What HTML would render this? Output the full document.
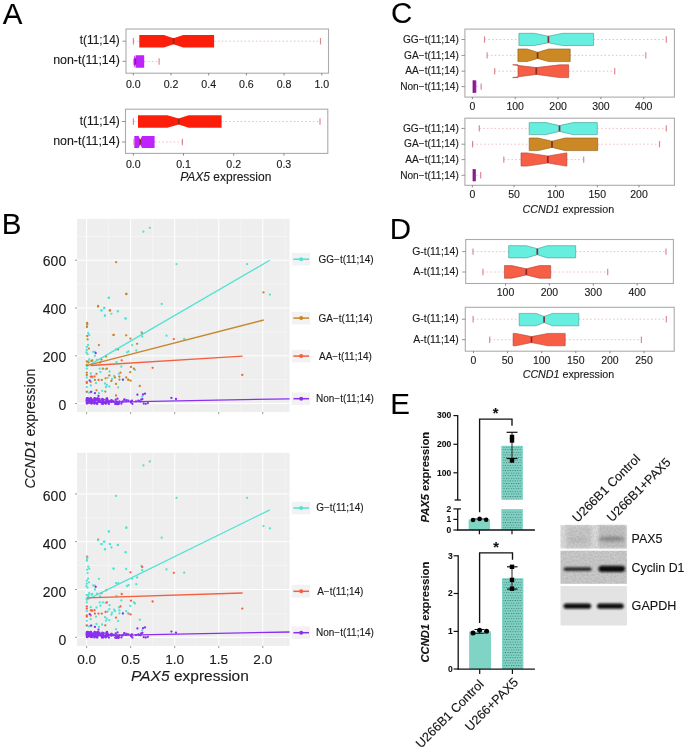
<!DOCTYPE html>
<html><head><meta charset="utf-8"><style>
html,body{margin:0;padding:0;background:#fff;}
svg{display:block;will-change:transform;}
text{font-family:"Liberation Sans", sans-serif;stroke:#1a1a1a;stroke-width:0.12px;}
</style></head><body>
<svg width="685" height="748" viewBox="0 0 685 748">
<rect x="0" y="0" width="685" height="748" fill="#ffffff"/>
<text x="2.8" y="23.8" font-size="29.5" text-anchor="start" font-weight="normal" font-style="normal" fill="#000" >A</text>
<text x="1.8" y="233.9" font-size="29.5" text-anchor="start" font-weight="normal" font-style="normal" fill="#000" >B</text>
<text x="390.9" y="23.4" font-size="29.5" text-anchor="start" font-weight="normal" font-style="normal" fill="#000" >C</text>
<text x="389.7" y="239.2" font-size="29.5" text-anchor="start" font-weight="normal" font-style="normal" fill="#000" >D</text>
<text x="390.3" y="414.1" font-size="29.5" text-anchor="start" font-weight="normal" font-style="normal" fill="#000" >E</text>
<rect x="126.00" y="29.00" width="202.50" height="44.20" fill="none" stroke="#ababab" stroke-width="1.1" />
<line x1="133.30" y1="73.20" x2="133.30" y2="75.40" stroke="#777" stroke-width="0.9" />
<text x="133.3" y="87.6" font-size="10.6" text-anchor="middle" font-weight="normal" font-style="normal" fill="#1a1a1a" >0.0</text>
<line x1="171.00" y1="73.20" x2="171.00" y2="75.40" stroke="#777" stroke-width="0.9" />
<text x="171.0" y="87.6" font-size="10.6" text-anchor="middle" font-weight="normal" font-style="normal" fill="#1a1a1a" >0.2</text>
<line x1="208.70" y1="73.20" x2="208.70" y2="75.40" stroke="#777" stroke-width="0.9" />
<text x="208.7" y="87.6" font-size="10.6" text-anchor="middle" font-weight="normal" font-style="normal" fill="#1a1a1a" >0.4</text>
<line x1="246.40" y1="73.20" x2="246.40" y2="75.40" stroke="#777" stroke-width="0.9" />
<text x="246.4" y="87.6" font-size="10.6" text-anchor="middle" font-weight="normal" font-style="normal" fill="#1a1a1a" >0.6</text>
<line x1="284.10" y1="73.20" x2="284.10" y2="75.40" stroke="#777" stroke-width="0.9" />
<text x="284.1" y="87.6" font-size="10.6" text-anchor="middle" font-weight="normal" font-style="normal" fill="#1a1a1a" >0.8</text>
<line x1="321.80" y1="73.20" x2="321.80" y2="75.40" stroke="#777" stroke-width="0.9" />
<text x="321.8" y="87.6" font-size="10.6" text-anchor="middle" font-weight="normal" font-style="normal" fill="#1a1a1a" >1.0</text>
<line x1="122.50" y1="41.20" x2="126.00" y2="41.20" stroke="#888" stroke-width="0.9" />
<line x1="122.50" y1="61.30" x2="126.00" y2="61.30" stroke="#888" stroke-width="0.9" />
<text x="119.8" y="44.1" font-size="11.9" text-anchor="end" font-weight="normal" font-style="normal" fill="#1a1a1a" >t(11;14)</text>
<text x="119.8" y="64.4" font-size="11.9" text-anchor="end" font-weight="normal" font-style="normal" fill="#1a1a1a"  textLength="66.60" lengthAdjust="spacingAndGlyphs">non-t(11;14)</text>
<line x1="133.40" y1="41.20" x2="139.30" y2="41.20" stroke="#ecb0b6" stroke-width="0.8" stroke-dasharray="1.6,2.2"/>
<line x1="133.40" y1="38.00" x2="133.40" y2="44.40" stroke="#dc8a92" stroke-width="1.2" />
<line x1="214.10" y1="41.20" x2="320.50" y2="41.20" stroke="#ecb0b6" stroke-width="0.8" stroke-dasharray="1.6,2.2"/>
<line x1="320.50" y1="38.00" x2="320.50" y2="44.40" stroke="#dc8a92" stroke-width="1.2" />
<polygon points="139.30,34.90 163.90,34.90 173.60,38.20 183.20,34.90 214.10,34.90 214.10,47.50 183.20,47.50 173.60,44.20 163.90,47.50 139.30,47.50" fill="#fb1f0b" stroke="none" stroke-width="0.6"/>
<line x1="173.60" y1="38.20" x2="173.60" y2="44.20" stroke="#8a2a2a" stroke-width="1.7" />
<line x1="144.20" y1="61.50" x2="159.10" y2="61.50" stroke="#ecb0b6" stroke-width="0.8" stroke-dasharray="1.6,2.2"/>
<line x1="159.10" y1="58.30" x2="159.10" y2="64.70" stroke="#dc8a92" stroke-width="1.2" />
<polygon points="134.00,55.30 134.00,55.30 135.50,58.60 135.50,55.30 144.20,55.30 144.20,67.80 135.50,67.80 135.50,64.60 134.00,67.80 134.00,67.80" fill="#bd22ff" stroke="none" stroke-width="0.6"/>
<line x1="135.50" y1="58.60" x2="135.50" y2="64.60" stroke="#8a2a2a" stroke-width="1.3" />
<line x1="133.40" y1="58.80" x2="133.40" y2="64.80" stroke="#dc8a92" stroke-width="1.0" />
<rect x="125.50" y="109.20" width="202.30" height="44.20" fill="none" stroke="#ababab" stroke-width="1.1" />
<line x1="133.30" y1="153.40" x2="133.30" y2="155.60" stroke="#777" stroke-width="0.9" />
<text x="133.3" y="167.8" font-size="10.6" text-anchor="middle" font-weight="normal" font-style="normal" fill="#1a1a1a" >0.0</text>
<line x1="183.50" y1="153.40" x2="183.50" y2="155.60" stroke="#777" stroke-width="0.9" />
<text x="183.5" y="167.8" font-size="10.6" text-anchor="middle" font-weight="normal" font-style="normal" fill="#1a1a1a" >0.1</text>
<line x1="233.70" y1="153.40" x2="233.70" y2="155.60" stroke="#777" stroke-width="0.9" />
<text x="233.7" y="167.8" font-size="10.6" text-anchor="middle" font-weight="normal" font-style="normal" fill="#1a1a1a" >0.2</text>
<line x1="283.90" y1="153.40" x2="283.90" y2="155.60" stroke="#777" stroke-width="0.9" />
<text x="283.9" y="167.8" font-size="10.6" text-anchor="middle" font-weight="normal" font-style="normal" fill="#1a1a1a" >0.3</text>
<line x1="122.00" y1="121.50" x2="125.50" y2="121.50" stroke="#888" stroke-width="0.9" />
<line x1="122.00" y1="142.00" x2="125.50" y2="142.00" stroke="#888" stroke-width="0.9" />
<text x="119.8" y="124.6" font-size="11.9" text-anchor="end" font-weight="normal" font-style="normal" fill="#1a1a1a" >t(11;14)</text>
<text x="119.8" y="145.1" font-size="11.9" text-anchor="end" font-weight="normal" font-style="normal" fill="#1a1a1a"  textLength="66.60" lengthAdjust="spacingAndGlyphs">non-t(11;14)</text>
<line x1="133.40" y1="121.50" x2="138.00" y2="121.50" stroke="#ecb0b6" stroke-width="0.8" stroke-dasharray="1.6,2.2"/>
<line x1="133.40" y1="118.30" x2="133.40" y2="124.70" stroke="#dc8a92" stroke-width="1.2" />
<line x1="221.60" y1="121.50" x2="320.00" y2="121.50" stroke="#ecb0b6" stroke-width="0.8" stroke-dasharray="1.6,2.2"/>
<line x1="320.00" y1="118.30" x2="320.00" y2="124.70" stroke="#dc8a92" stroke-width="1.2" />
<polygon points="138.00,115.30 167.30,115.30 178.70,118.60 188.60,115.30 221.60,115.30 221.60,127.70 188.60,127.70 178.70,124.40 167.30,127.70 138.00,127.70" fill="#fb1f0b" stroke="none" stroke-width="0.6"/>
<line x1="178.70" y1="118.60" x2="178.70" y2="124.40" stroke="#8a2a2a" stroke-width="1.7" />
<line x1="154.60" y1="142.00" x2="182.40" y2="142.00" stroke="#ecb0b6" stroke-width="0.8" stroke-dasharray="1.6,2.2"/>
<line x1="182.40" y1="138.80" x2="182.40" y2="145.20" stroke="#dc8a92" stroke-width="1.2" />
<polygon points="134.30,135.90 138.60,135.90 140.30,139.50 142.00,135.90 154.60,135.90 154.60,148.10 142.00,148.10 140.30,144.50 138.60,148.10 134.30,148.10" fill="#bd22ff" stroke="none" stroke-width="0.6"/>
<line x1="140.30" y1="139.50" x2="140.30" y2="144.50" stroke="#8a2a2a" stroke-width="1.7" />
<line x1="133.90" y1="139.00" x2="133.90" y2="145.00" stroke="#dc8a92" stroke-width="1.0" />
<text x="180.2" y="181.1" font-size="12.0" text-anchor="start" font-weight="normal" font-style="normal" fill="#1a1a1a" ><tspan font-style="italic">PAX5</tspan> expression</text>
<rect x="77.00" y="218.90" width="212.60" height="193.10" fill="#eeeeee" stroke="none" stroke-width="1" />
<line x1="108.62" y1="218.90" x2="108.62" y2="412.00" stroke="#fafafa" stroke-width="0.5" />
<line x1="152.67" y1="218.90" x2="152.67" y2="412.00" stroke="#fafafa" stroke-width="0.5" />
<line x1="196.72" y1="218.90" x2="196.72" y2="412.00" stroke="#fafafa" stroke-width="0.5" />
<line x1="240.77" y1="218.90" x2="240.77" y2="412.00" stroke="#fafafa" stroke-width="0.5" />
<line x1="284.82" y1="218.90" x2="284.82" y2="412.00" stroke="#fafafa" stroke-width="0.5" />
<line x1="77.00" y1="379.70" x2="289.60" y2="379.70" stroke="#fafafa" stroke-width="0.5" />
<line x1="77.00" y1="331.90" x2="289.60" y2="331.90" stroke="#fafafa" stroke-width="0.5" />
<line x1="77.00" y1="284.10" x2="289.60" y2="284.10" stroke="#fafafa" stroke-width="0.5" />
<line x1="77.00" y1="236.30" x2="289.60" y2="236.30" stroke="#fafafa" stroke-width="0.5" />
<line x1="86.60" y1="218.90" x2="86.60" y2="412.00" stroke="#ffffff" stroke-width="1.0" />
<line x1="130.65" y1="218.90" x2="130.65" y2="412.00" stroke="#ffffff" stroke-width="1.0" />
<line x1="174.70" y1="218.90" x2="174.70" y2="412.00" stroke="#ffffff" stroke-width="1.0" />
<line x1="218.75" y1="218.90" x2="218.75" y2="412.00" stroke="#ffffff" stroke-width="1.0" />
<line x1="262.80" y1="218.90" x2="262.80" y2="412.00" stroke="#ffffff" stroke-width="1.0" />
<line x1="77.00" y1="403.60" x2="289.60" y2="403.60" stroke="#ffffff" stroke-width="1.0" />
<line x1="77.00" y1="355.80" x2="289.60" y2="355.80" stroke="#ffffff" stroke-width="1.0" />
<line x1="77.00" y1="308.00" x2="289.60" y2="308.00" stroke="#ffffff" stroke-width="1.0" />
<line x1="77.00" y1="260.20" x2="289.60" y2="260.20" stroke="#ffffff" stroke-width="1.0" />
<line x1="75.00" y1="403.60" x2="77.00" y2="403.60" stroke="#999" stroke-width="1.0" />
<text x="66.2" y="410.4" font-size="14.0" text-anchor="end" font-weight="normal" font-style="normal" fill="#1a1a1a" >0</text>
<line x1="75.00" y1="355.80" x2="77.00" y2="355.80" stroke="#999" stroke-width="1.0" />
<text x="66.2" y="362.2" font-size="14.0" text-anchor="end" font-weight="normal" font-style="normal" fill="#1a1a1a" >200</text>
<line x1="75.00" y1="308.00" x2="77.00" y2="308.00" stroke="#999" stroke-width="1.0" />
<text x="66.2" y="314.1" font-size="14.0" text-anchor="end" font-weight="normal" font-style="normal" fill="#1a1a1a" >400</text>
<line x1="75.00" y1="260.20" x2="77.00" y2="260.20" stroke="#999" stroke-width="1.0" />
<text x="66.2" y="265.9" font-size="14.0" text-anchor="end" font-weight="normal" font-style="normal" fill="#1a1a1a" >600</text>
<line x1="86.60" y1="412.00" x2="86.60" y2="414.20" stroke="#999" stroke-width="1.0" />
<line x1="130.65" y1="412.00" x2="130.65" y2="414.20" stroke="#999" stroke-width="1.0" />
<line x1="174.70" y1="412.00" x2="174.70" y2="414.20" stroke="#999" stroke-width="1.0" />
<line x1="218.75" y1="412.00" x2="218.75" y2="414.20" stroke="#999" stroke-width="1.0" />
<line x1="262.80" y1="412.00" x2="262.80" y2="414.20" stroke="#999" stroke-width="1.0" />
<circle cx="143.4" cy="231.7" r="1.15" fill="#4fe3d3"/>
<circle cx="149.8" cy="227.8" r="1.15" fill="#4fe3d3"/>
<circle cx="176.5" cy="264.1" r="1.15" fill="#4fe3d3"/>
<circle cx="247.1" cy="264.1" r="1.15" fill="#4fe3d3"/>
<circle cx="269.9" cy="294.6" r="1.15" fill="#4fe3d3"/>
<circle cx="108.7" cy="297.9" r="1.15" fill="#4fe3d3"/>
<circle cx="103.9" cy="308.1" r="1.15" fill="#4fe3d3"/>
<circle cx="101.3" cy="310.4" r="1.15" fill="#4fe3d3"/>
<circle cx="104.9" cy="315.5" r="1.15" fill="#4fe3d3"/>
<circle cx="117.7" cy="311.3" r="1.15" fill="#4fe3d3"/>
<circle cx="111.4" cy="313.8" r="1.15" fill="#4fe3d3"/>
<circle cx="125.4" cy="318.4" r="1.15" fill="#4fe3d3"/>
<circle cx="161.7" cy="304.0" r="1.15" fill="#4fe3d3"/>
<circle cx="166.5" cy="335.7" r="1.15" fill="#4fe3d3"/>
<circle cx="184.2" cy="339.0" r="1.15" fill="#4fe3d3"/>
<circle cx="141.5" cy="332.2" r="1.15" fill="#4fe3d3"/>
<circle cx="142.2" cy="336.5" r="1.15" fill="#4fe3d3"/>
<circle cx="109.0" cy="297.7" r="1.15" fill="#4fe3d3"/>
<circle cx="101.6" cy="310.5" r="1.15" fill="#4fe3d3"/>
<circle cx="104.5" cy="308.0" r="1.15" fill="#4fe3d3"/>
<circle cx="118.1" cy="311.3" r="1.15" fill="#4fe3d3"/>
<circle cx="105.0" cy="315.7" r="1.15" fill="#4fe3d3"/>
<circle cx="125.8" cy="318.6" r="1.15" fill="#4fe3d3"/>
<circle cx="87.1" cy="325.3" r="1.15" fill="#4fe3d3"/>
<circle cx="89.2" cy="335.0" r="1.15" fill="#4fe3d3"/>
<circle cx="88.2" cy="333.0" r="1.15" fill="#4fe3d3"/>
<circle cx="132.1" cy="345.1" r="1.15" fill="#4fe3d3"/>
<circle cx="86.8" cy="347.0" r="1.15" fill="#4fe3d3"/>
<circle cx="86.8" cy="350.0" r="1.15" fill="#4fe3d3"/>
<circle cx="86.4" cy="352.5" r="1.15" fill="#4fe3d3"/>
<circle cx="87.5" cy="354.0" r="1.15" fill="#4fe3d3"/>
<circle cx="93.2" cy="351.8" r="1.15" fill="#4fe3d3"/>
<circle cx="94.9" cy="355.8" r="1.15" fill="#4fe3d3"/>
<circle cx="116.0" cy="349.4" r="1.15" fill="#4fe3d3"/>
<circle cx="127.0" cy="352.3" r="1.15" fill="#4fe3d3"/>
<circle cx="128.6" cy="351.5" r="1.15" fill="#4fe3d3"/>
<circle cx="136.3" cy="350.5" r="1.15" fill="#4fe3d3"/>
<circle cx="89.2" cy="359.5" r="1.15" fill="#4fe3d3"/>
<circle cx="88.4" cy="361.4" r="1.15" fill="#4fe3d3"/>
<circle cx="116.5" cy="362.2" r="1.15" fill="#4fe3d3"/>
<circle cx="86.8" cy="366.0" r="1.15" fill="#4fe3d3"/>
<circle cx="86.8" cy="368.7" r="1.15" fill="#4fe3d3"/>
<circle cx="99.7" cy="368.7" r="1.15" fill="#4fe3d3"/>
<circle cx="105.6" cy="369.1" r="1.15" fill="#4fe3d3"/>
<circle cx="121.3" cy="366.7" r="1.15" fill="#4fe3d3"/>
<circle cx="135.0" cy="369.8" r="1.15" fill="#4fe3d3"/>
<circle cx="90.8" cy="373.5" r="1.15" fill="#4fe3d3"/>
<circle cx="92.4" cy="377.5" r="1.15" fill="#4fe3d3"/>
<circle cx="86.8" cy="377.5" r="1.15" fill="#4fe3d3"/>
<circle cx="118.9" cy="373.8" r="1.15" fill="#4fe3d3"/>
<circle cx="114.1" cy="375.9" r="1.15" fill="#4fe3d3"/>
<circle cx="107.7" cy="377.8" r="1.15" fill="#4fe3d3"/>
<circle cx="105.0" cy="383.5" r="1.15" fill="#4fe3d3"/>
<circle cx="106.8" cy="385.0" r="1.15" fill="#4fe3d3"/>
<circle cx="106.0" cy="387.0" r="1.15" fill="#4fe3d3"/>
<circle cx="109.3" cy="386.5" r="1.15" fill="#4fe3d3"/>
<circle cx="90.8" cy="385.5" r="1.15" fill="#4fe3d3"/>
<circle cx="118.1" cy="387.4" r="1.15" fill="#4fe3d3"/>
<circle cx="86.8" cy="387.1" r="1.15" fill="#4fe3d3"/>
<circle cx="86.8" cy="392.2" r="1.15" fill="#4fe3d3"/>
<circle cx="89.2" cy="392.7" r="1.15" fill="#4fe3d3"/>
<circle cx="91.6" cy="391.6" r="1.15" fill="#4fe3d3"/>
<circle cx="98.9" cy="393.2" r="1.15" fill="#4fe3d3"/>
<circle cx="102.1" cy="390.8" r="1.15" fill="#4fe3d3"/>
<circle cx="142.2" cy="396.7" r="1.15" fill="#4fe3d3"/>
<circle cx="95.0" cy="352.0" r="1.15" fill="#4fe3d3"/>
<circle cx="88.0" cy="345.0" r="1.15" fill="#4fe3d3"/>
<circle cx="100.5" cy="372.0" r="1.15" fill="#4fe3d3"/>
<circle cx="97.0" cy="360.0" r="1.15" fill="#4fe3d3"/>
<circle cx="112.0" cy="379.0" r="1.15" fill="#4fe3d3"/>
<circle cx="123.0" cy="380.0" r="1.15" fill="#4fe3d3"/>
<circle cx="96.0" cy="383.0" r="1.15" fill="#4fe3d3"/>
<circle cx="109.5" cy="371.5" r="1.15" fill="#4fe3d3"/>
<circle cx="126.2" cy="294.0" r="1.15" fill="#c8862a"/>
<circle cx="98.1" cy="306.0" r="1.15" fill="#c8862a"/>
<circle cx="110.1" cy="310.5" r="1.15" fill="#c8862a"/>
<circle cx="87.1" cy="322.9" r="1.15" fill="#c8862a"/>
<circle cx="87.3" cy="324.0" r="1.15" fill="#c8862a"/>
<circle cx="113.6" cy="334.9" r="1.15" fill="#c8862a"/>
<circle cx="126.2" cy="335.3" r="1.15" fill="#c8862a"/>
<circle cx="130.5" cy="338.6" r="1.15" fill="#c8862a"/>
<circle cx="87.6" cy="339.4" r="1.15" fill="#c8862a"/>
<circle cx="98.9" cy="345.1" r="1.15" fill="#c8862a"/>
<circle cx="137.1" cy="343.8" r="1.15" fill="#c8862a"/>
<circle cx="88.9" cy="348.6" r="1.15" fill="#c8862a"/>
<circle cx="118.1" cy="349.4" r="1.15" fill="#c8862a"/>
<circle cx="106.1" cy="356.6" r="1.15" fill="#c8862a"/>
<circle cx="92.4" cy="360.3" r="1.15" fill="#c8862a"/>
<circle cx="91.4" cy="361.0" r="1.15" fill="#c8862a"/>
<circle cx="86.8" cy="361.5" r="1.15" fill="#c8862a"/>
<circle cx="88.4" cy="362.5" r="1.15" fill="#c8862a"/>
<circle cx="131.0" cy="367.0" r="1.15" fill="#c8862a"/>
<circle cx="96.5" cy="373.8" r="1.15" fill="#c8862a"/>
<circle cx="102.9" cy="368.7" r="1.15" fill="#c8862a"/>
<circle cx="106.9" cy="368.7" r="1.15" fill="#c8862a"/>
<circle cx="133.9" cy="368.7" r="1.15" fill="#c8862a"/>
<circle cx="130.2" cy="372.2" r="1.15" fill="#c8862a"/>
<circle cx="120.5" cy="372.7" r="1.15" fill="#c8862a"/>
<circle cx="109.3" cy="375.4" r="1.15" fill="#c8862a"/>
<circle cx="114.9" cy="377.5" r="1.15" fill="#c8862a"/>
<circle cx="119.4" cy="376.7" r="1.15" fill="#c8862a"/>
<circle cx="126.2" cy="377.5" r="1.15" fill="#c8862a"/>
<circle cx="105.6" cy="378.3" r="1.15" fill="#c8862a"/>
<circle cx="94.9" cy="379.9" r="1.15" fill="#c8862a"/>
<circle cx="101.8" cy="379.9" r="1.15" fill="#c8862a"/>
<circle cx="119.4" cy="379.6" r="1.15" fill="#c8862a"/>
<circle cx="128.6" cy="379.9" r="1.15" fill="#c8862a"/>
<circle cx="130.6" cy="380.7" r="1.15" fill="#c8862a"/>
<circle cx="111.4" cy="381.0" r="1.15" fill="#c8862a"/>
<circle cx="86.8" cy="372.7" r="1.15" fill="#c8862a"/>
<circle cx="86.8" cy="375.0" r="1.15" fill="#c8862a"/>
<circle cx="86.8" cy="381.8" r="1.15" fill="#c8862a"/>
<circle cx="90.8" cy="381.8" r="1.15" fill="#c8862a"/>
<circle cx="116.0" cy="383.9" r="1.15" fill="#c8862a"/>
<circle cx="139.8" cy="386.0" r="1.15" fill="#c8862a"/>
<circle cx="96.5" cy="390.3" r="1.15" fill="#c8862a"/>
<circle cx="105.3" cy="391.6" r="1.15" fill="#c8862a"/>
<circle cx="116.0" cy="395.5" r="1.15" fill="#c8862a"/>
<circle cx="263.5" cy="292.4" r="1.15" fill="#c8862a"/>
<circle cx="116.1" cy="262.2" r="1.15" fill="#c8862a"/>
<circle cx="126.4" cy="294.0" r="1.15" fill="#c8862a"/>
<circle cx="98.1" cy="306.5" r="1.15" fill="#c8862a"/>
<circle cx="109.7" cy="310.4" r="1.15" fill="#c8862a"/>
<circle cx="86.9" cy="327.0" r="1.15" fill="#c8862a"/>
<circle cx="87.2" cy="336.0" r="1.15" fill="#c8862a"/>
<circle cx="113.6" cy="335.0" r="1.15" fill="#c8862a"/>
<circle cx="128.0" cy="379.6" r="1.15" fill="#c8862a"/>
<circle cx="86.8" cy="365.0" r="1.15" fill="#c8862a"/>
<circle cx="100.0" cy="362.5" r="1.15" fill="#c8862a"/>
<circle cx="142.2" cy="333.3" r="1.15" fill="#f4603f"/>
<circle cx="173.8" cy="339.1" r="1.15" fill="#f4603f"/>
<circle cx="121.7" cy="360.3" r="1.15" fill="#f4603f"/>
<circle cx="152.6" cy="367.8" r="1.15" fill="#f4603f"/>
<circle cx="90.8" cy="376.7" r="1.15" fill="#f4603f"/>
<circle cx="98.5" cy="379.9" r="1.15" fill="#f4603f"/>
<circle cx="86.8" cy="383.0" r="1.15" fill="#f4603f"/>
<circle cx="86.8" cy="391.6" r="1.15" fill="#f4603f"/>
<circle cx="101.4" cy="359.5" r="1.15" fill="#f4603f"/>
<circle cx="242.3" cy="374.9" r="1.15" fill="#f4603f"/>
<circle cx="91.8" cy="376.7" r="1.15" fill="#f4603f"/>
<circle cx="94.5" cy="376.5" r="1.15" fill="#f4603f"/>
<circle cx="95.7" cy="353.1" r="1.15" fill="#8a2ff0"/>
<circle cx="122.9" cy="379.6" r="1.15" fill="#8a2ff0"/>
<circle cx="94.9" cy="393.2" r="1.15" fill="#8a2ff0"/>
<circle cx="98.5" cy="395.9" r="1.15" fill="#8a2ff0"/>
<circle cx="137.4" cy="394.7" r="1.15" fill="#8a2ff0"/>
<circle cx="143.0" cy="394.5" r="1.15" fill="#8a2ff0"/>
<circle cx="145.0" cy="393.7" r="1.15" fill="#8a2ff0"/>
<circle cx="171.4" cy="397.9" r="1.15" fill="#8a2ff0"/>
<circle cx="176.0" cy="399.0" r="1.15" fill="#8a2ff0"/>
<circle cx="89.7" cy="380.5" r="1.15" fill="#8a2ff0"/>
<circle cx="91.0" cy="392.0" r="1.15" fill="#8a2ff0"/>
<circle cx="90.3" cy="398.9" r="1.15" fill="#8a2ff0"/>
<circle cx="97.4" cy="398.4" r="1.15" fill="#8a2ff0"/>
<circle cx="94.5" cy="400.1" r="1.15" fill="#8a2ff0"/>
<circle cx="87.0" cy="400.9" r="1.15" fill="#8a2ff0"/>
<circle cx="86.9" cy="400.5" r="1.15" fill="#8a2ff0"/>
<circle cx="87.1" cy="398.5" r="1.15" fill="#8a2ff0"/>
<circle cx="92.1" cy="402.8" r="1.15" fill="#8a2ff0"/>
<circle cx="87.5" cy="399.3" r="1.15" fill="#8a2ff0"/>
<circle cx="96.8" cy="403.5" r="1.15" fill="#8a2ff0"/>
<circle cx="95.5" cy="400.3" r="1.15" fill="#8a2ff0"/>
<circle cx="107.0" cy="398.3" r="1.15" fill="#8a2ff0"/>
<circle cx="103.3" cy="399.7" r="1.15" fill="#8a2ff0"/>
<circle cx="87.7" cy="398.7" r="1.15" fill="#8a2ff0"/>
<circle cx="90.0" cy="402.7" r="1.15" fill="#8a2ff0"/>
<circle cx="88.2" cy="401.4" r="1.15" fill="#8a2ff0"/>
<circle cx="97.1" cy="400.2" r="1.15" fill="#8a2ff0"/>
<circle cx="94.8" cy="398.4" r="1.15" fill="#8a2ff0"/>
<circle cx="87.0" cy="399.2" r="1.15" fill="#8a2ff0"/>
<circle cx="98.1" cy="400.5" r="1.15" fill="#8a2ff0"/>
<circle cx="90.1" cy="401.4" r="1.15" fill="#8a2ff0"/>
<circle cx="92.7" cy="399.7" r="1.15" fill="#8a2ff0"/>
<circle cx="101.3" cy="402.1" r="1.15" fill="#8a2ff0"/>
<circle cx="89.0" cy="401.3" r="1.15" fill="#8a2ff0"/>
<circle cx="94.3" cy="403.1" r="1.15" fill="#8a2ff0"/>
<circle cx="99.5" cy="399.7" r="1.15" fill="#8a2ff0"/>
<circle cx="107.1" cy="398.7" r="1.15" fill="#8a2ff0"/>
<circle cx="92.0" cy="402.4" r="1.15" fill="#8a2ff0"/>
<circle cx="87.8" cy="400.8" r="1.15" fill="#8a2ff0"/>
<circle cx="86.9" cy="401.9" r="1.15" fill="#8a2ff0"/>
<circle cx="100.5" cy="401.3" r="1.15" fill="#8a2ff0"/>
<circle cx="103.8" cy="399.8" r="1.15" fill="#8a2ff0"/>
<circle cx="98.5" cy="401.4" r="1.15" fill="#8a2ff0"/>
<circle cx="95.6" cy="400.6" r="1.15" fill="#8a2ff0"/>
<circle cx="102.7" cy="403.5" r="1.15" fill="#8a2ff0"/>
<circle cx="93.2" cy="401.9" r="1.15" fill="#8a2ff0"/>
<circle cx="87.0" cy="402.1" r="1.15" fill="#8a2ff0"/>
<circle cx="97.3" cy="403.8" r="1.15" fill="#8a2ff0"/>
<circle cx="102.1" cy="399.7" r="1.15" fill="#8a2ff0"/>
<circle cx="91.4" cy="401.9" r="1.15" fill="#8a2ff0"/>
<circle cx="86.8" cy="400.7" r="1.15" fill="#8a2ff0"/>
<circle cx="88.0" cy="398.7" r="1.15" fill="#8a2ff0"/>
<circle cx="87.0" cy="402.5" r="1.15" fill="#8a2ff0"/>
<circle cx="87.6" cy="399.4" r="1.15" fill="#8a2ff0"/>
<circle cx="91.5" cy="403.1" r="1.15" fill="#8a2ff0"/>
<circle cx="87.2" cy="400.6" r="1.15" fill="#8a2ff0"/>
<circle cx="94.9" cy="403.1" r="1.15" fill="#8a2ff0"/>
<circle cx="102.1" cy="403.0" r="1.15" fill="#8a2ff0"/>
<circle cx="89.5" cy="400.4" r="1.15" fill="#8a2ff0"/>
<circle cx="90.9" cy="403.1" r="1.15" fill="#8a2ff0"/>
<circle cx="106.4" cy="398.9" r="1.15" fill="#8a2ff0"/>
<circle cx="88.1" cy="399.3" r="1.15" fill="#8a2ff0"/>
<circle cx="88.8" cy="400.8" r="1.15" fill="#8a2ff0"/>
<circle cx="95.8" cy="399.5" r="1.15" fill="#8a2ff0"/>
<circle cx="86.8" cy="400.4" r="1.15" fill="#8a2ff0"/>
<circle cx="91.1" cy="401.3" r="1.15" fill="#8a2ff0"/>
<circle cx="106.2" cy="402.0" r="1.15" fill="#8a2ff0"/>
<circle cx="94.1" cy="401.6" r="1.15" fill="#8a2ff0"/>
<circle cx="98.0" cy="398.3" r="1.15" fill="#8a2ff0"/>
<circle cx="104.5" cy="402.5" r="1.15" fill="#8a2ff0"/>
<circle cx="103.7" cy="402.6" r="1.15" fill="#8a2ff0"/>
<circle cx="91.5" cy="400.3" r="1.15" fill="#8a2ff0"/>
<circle cx="87.4" cy="401.7" r="1.15" fill="#8a2ff0"/>
<circle cx="87.0" cy="398.4" r="1.15" fill="#8a2ff0"/>
<circle cx="88.5" cy="398.9" r="1.15" fill="#8a2ff0"/>
<circle cx="90.5" cy="398.3" r="1.15" fill="#8a2ff0"/>
<circle cx="86.8" cy="398.9" r="1.15" fill="#8a2ff0"/>
<circle cx="87.3" cy="400.1" r="1.15" fill="#8a2ff0"/>
<circle cx="86.9" cy="403.1" r="1.15" fill="#8a2ff0"/>
<circle cx="96.4" cy="398.9" r="1.15" fill="#8a2ff0"/>
<circle cx="89.1" cy="400.0" r="1.15" fill="#8a2ff0"/>
<circle cx="91.0" cy="398.7" r="1.15" fill="#8a2ff0"/>
<circle cx="103.0" cy="403.8" r="1.15" fill="#8a2ff0"/>
<circle cx="93.0" cy="400.8" r="1.15" fill="#8a2ff0"/>
<circle cx="87.2" cy="398.6" r="1.15" fill="#8a2ff0"/>
<circle cx="90.6" cy="399.5" r="1.15" fill="#8a2ff0"/>
<circle cx="102.4" cy="398.9" r="1.15" fill="#8a2ff0"/>
<circle cx="86.9" cy="403.5" r="1.15" fill="#8a2ff0"/>
<circle cx="94.4" cy="398.9" r="1.15" fill="#8a2ff0"/>
<circle cx="94.7" cy="398.2" r="1.15" fill="#8a2ff0"/>
<circle cx="94.4" cy="403.7" r="1.15" fill="#8a2ff0"/>
<circle cx="103.4" cy="402.0" r="1.15" fill="#8a2ff0"/>
<circle cx="89.2" cy="400.1" r="1.15" fill="#8a2ff0"/>
<circle cx="88.0" cy="402.5" r="1.15" fill="#8a2ff0"/>
<circle cx="94.5" cy="402.5" r="1.15" fill="#8a2ff0"/>
<circle cx="90.4" cy="399.3" r="1.15" fill="#8a2ff0"/>
<circle cx="101.8" cy="403.7" r="1.15" fill="#8a2ff0"/>
<circle cx="103.1" cy="402.7" r="1.15" fill="#8a2ff0"/>
<circle cx="102.0" cy="402.3" r="1.15" fill="#8a2ff0"/>
<circle cx="88.8" cy="401.0" r="1.15" fill="#8a2ff0"/>
<circle cx="90.8" cy="398.2" r="1.15" fill="#8a2ff0"/>
<circle cx="86.9" cy="399.6" r="1.15" fill="#8a2ff0"/>
<circle cx="89.2" cy="402.0" r="1.15" fill="#8a2ff0"/>
<circle cx="106.4" cy="400.6" r="1.15" fill="#8a2ff0"/>
<circle cx="105.7" cy="403.7" r="1.15" fill="#8a2ff0"/>
<circle cx="106.3" cy="400.1" r="1.15" fill="#8a2ff0"/>
<circle cx="88.7" cy="399.3" r="1.15" fill="#8a2ff0"/>
<circle cx="88.4" cy="399.2" r="1.15" fill="#8a2ff0"/>
<circle cx="96.7" cy="403.2" r="1.15" fill="#8a2ff0"/>
<circle cx="102.7" cy="400.8" r="1.15" fill="#8a2ff0"/>
<circle cx="97.4" cy="402.6" r="1.15" fill="#8a2ff0"/>
<circle cx="87.2" cy="401.8" r="1.15" fill="#8a2ff0"/>
<circle cx="104.9" cy="402.5" r="1.15" fill="#8a2ff0"/>
<circle cx="100.1" cy="400.8" r="1.15" fill="#8a2ff0"/>
<circle cx="88.1" cy="402.6" r="1.15" fill="#8a2ff0"/>
<circle cx="90.4" cy="402.6" r="1.15" fill="#8a2ff0"/>
<circle cx="106.9" cy="400.3" r="1.15" fill="#8a2ff0"/>
<circle cx="91.7" cy="403.5" r="1.15" fill="#8a2ff0"/>
<circle cx="99.3" cy="399.0" r="1.15" fill="#8a2ff0"/>
<circle cx="87.6" cy="398.9" r="1.15" fill="#8a2ff0"/>
<circle cx="104.7" cy="402.7" r="1.15" fill="#8a2ff0"/>
<circle cx="87.8" cy="402.8" r="1.15" fill="#8a2ff0"/>
<circle cx="107.1" cy="401.8" r="1.15" fill="#8a2ff0"/>
<circle cx="90.7" cy="401.2" r="1.15" fill="#8a2ff0"/>
<circle cx="87.6" cy="398.1" r="1.15" fill="#8a2ff0"/>
<circle cx="106.8" cy="401.8" r="1.15" fill="#8a2ff0"/>
<circle cx="117.6" cy="404.0" r="1.15" fill="#8a2ff0"/>
<circle cx="115.5" cy="403.7" r="1.15" fill="#8a2ff0"/>
<circle cx="124.2" cy="399.8" r="1.15" fill="#8a2ff0"/>
<circle cx="111.5" cy="400.3" r="1.15" fill="#8a2ff0"/>
<circle cx="111.3" cy="402.0" r="1.15" fill="#8a2ff0"/>
<circle cx="111.7" cy="401.0" r="1.15" fill="#8a2ff0"/>
<circle cx="108.9" cy="403.9" r="1.15" fill="#8a2ff0"/>
<circle cx="113.8" cy="401.3" r="1.15" fill="#8a2ff0"/>
<circle cx="118.8" cy="403.8" r="1.15" fill="#8a2ff0"/>
<circle cx="115.3" cy="403.9" r="1.15" fill="#8a2ff0"/>
<circle cx="117.0" cy="401.7" r="1.15" fill="#8a2ff0"/>
<circle cx="117.5" cy="398.7" r="1.15" fill="#8a2ff0"/>
<circle cx="115.7" cy="399.7" r="1.15" fill="#8a2ff0"/>
<circle cx="106.1" cy="403.2" r="1.15" fill="#8a2ff0"/>
<circle cx="109.8" cy="401.3" r="1.15" fill="#8a2ff0"/>
<circle cx="122.0" cy="401.8" r="1.15" fill="#8a2ff0"/>
<circle cx="113.2" cy="401.6" r="1.15" fill="#8a2ff0"/>
<circle cx="118.2" cy="403.1" r="1.15" fill="#8a2ff0"/>
<circle cx="108.3" cy="401.8" r="1.15" fill="#8a2ff0"/>
<circle cx="111.5" cy="400.2" r="1.15" fill="#8a2ff0"/>
<circle cx="123.0" cy="401.5" r="1.15" fill="#8a2ff0"/>
<circle cx="118.4" cy="403.0" r="1.15" fill="#8a2ff0"/>
<circle cx="126.1" cy="401.2" r="1.15" fill="#8a2ff0"/>
<circle cx="119.5" cy="401.5" r="1.15" fill="#8a2ff0"/>
<circle cx="117.3" cy="402.6" r="1.15" fill="#8a2ff0"/>
<circle cx="116.0" cy="401.7" r="1.15" fill="#8a2ff0"/>
<circle cx="116.5" cy="404.1" r="1.15" fill="#8a2ff0"/>
<circle cx="121.4" cy="403.7" r="1.15" fill="#8a2ff0"/>
<circle cx="126.7" cy="400.1" r="1.15" fill="#8a2ff0"/>
<circle cx="118.3" cy="404.1" r="1.15" fill="#8a2ff0"/>
<circle cx="124.5" cy="399.4" r="1.15" fill="#8a2ff0"/>
<circle cx="108.7" cy="401.2" r="1.15" fill="#8a2ff0"/>
<circle cx="107.6" cy="400.0" r="1.15" fill="#8a2ff0"/>
<circle cx="107.6" cy="402.5" r="1.15" fill="#8a2ff0"/>
<circle cx="143.7" cy="403.5" r="1.15" fill="#8a2ff0"/>
<circle cx="131.1" cy="402.6" r="1.15" fill="#8a2ff0"/>
<circle cx="141.2" cy="399.7" r="1.15" fill="#8a2ff0"/>
<circle cx="145.7" cy="403.8" r="1.15" fill="#8a2ff0"/>
<circle cx="132.4" cy="403.8" r="1.15" fill="#8a2ff0"/>
<circle cx="136.0" cy="401.4" r="1.15" fill="#8a2ff0"/>
<circle cx="147.8" cy="403.2" r="1.15" fill="#8a2ff0"/>
<circle cx="131.2" cy="401.2" r="1.15" fill="#8a2ff0"/>
<circle cx="138.3" cy="400.7" r="1.15" fill="#8a2ff0"/>
<circle cx="131.9" cy="400.6" r="1.15" fill="#8a2ff0"/>
<circle cx="142.4" cy="399.1" r="1.15" fill="#8a2ff0"/>
<circle cx="139.1" cy="401.2" r="1.15" fill="#8a2ff0"/>
<circle cx="128.4" cy="400.7" r="1.15" fill="#8a2ff0"/>
<circle cx="140.5" cy="401.6" r="1.15" fill="#8a2ff0"/>
<line x1="86.60" y1="366.60" x2="269.80" y2="260.30" stroke="#4fe3d3" stroke-width="1.3" />
<line x1="86.60" y1="365.70" x2="263.80" y2="320.00" stroke="#c8862a" stroke-width="1.3" />
<line x1="90.80" y1="365.50" x2="242.60" y2="356.20" stroke="#f4603f" stroke-width="1.3" />
<line x1="86.60" y1="402.60" x2="289.60" y2="398.80" stroke="#8a2ff0" stroke-width="1.3" />
<rect x="291.60" y="252.90" width="18.60" height="12.60" fill="#f2f2f2" stroke="none" stroke-width="1" />
<line x1="293.40" y1="259.20" x2="309.00" y2="259.20" stroke="#4fe3d3" stroke-width="1.5" />
<circle cx="301.2" cy="259.2" r="2.0" fill="#4fe3d3"/>
<text x="318.5" y="262.6" font-size="10.0" text-anchor="start" font-weight="normal" font-style="normal" fill="#1a1a1a" >GG&#8722;t(11;14)</text>
<rect x="291.60" y="311.80" width="18.60" height="12.60" fill="#f2f2f2" stroke="none" stroke-width="1" />
<line x1="293.40" y1="318.10" x2="309.00" y2="318.10" stroke="#c8862a" stroke-width="1.5" />
<circle cx="301.2" cy="318.1" r="2.0" fill="#c8862a"/>
<text x="318.5" y="321.5" font-size="10.0" text-anchor="start" font-weight="normal" font-style="normal" fill="#1a1a1a" >GA&#8722;t(11;14)</text>
<rect x="291.60" y="349.80" width="18.60" height="12.60" fill="#f2f2f2" stroke="none" stroke-width="1" />
<line x1="293.40" y1="356.10" x2="309.00" y2="356.10" stroke="#f4603f" stroke-width="1.5" />
<circle cx="301.2" cy="356.1" r="2.0" fill="#f4603f"/>
<text x="319.0" y="359.5" font-size="10.0" text-anchor="start" font-weight="normal" font-style="normal" fill="#1a1a1a" >AA&#8722;t(11;14)</text>
<rect x="291.60" y="392.40" width="18.60" height="12.60" fill="#f2f2f2" stroke="none" stroke-width="1" />
<line x1="293.40" y1="398.70" x2="309.00" y2="398.70" stroke="#8a2ff0" stroke-width="1.5" />
<circle cx="301.2" cy="398.7" r="2.0" fill="#8a2ff0"/>
<text x="316.0" y="402.1" font-size="10.0" text-anchor="start" font-weight="normal" font-style="normal" fill="#1a1a1a" >Non&#8722;t(11;14)</text>
<rect x="77.00" y="452.80" width="212.60" height="193.10" fill="#eeeeee" stroke="none" stroke-width="1" />
<line x1="108.62" y1="452.80" x2="108.62" y2="645.90" stroke="#fafafa" stroke-width="0.5" />
<line x1="152.67" y1="452.80" x2="152.67" y2="645.90" stroke="#fafafa" stroke-width="0.5" />
<line x1="196.72" y1="452.80" x2="196.72" y2="645.90" stroke="#fafafa" stroke-width="0.5" />
<line x1="240.77" y1="452.80" x2="240.77" y2="645.90" stroke="#fafafa" stroke-width="0.5" />
<line x1="284.82" y1="452.80" x2="284.82" y2="645.90" stroke="#fafafa" stroke-width="0.5" />
<line x1="77.00" y1="613.40" x2="289.60" y2="613.40" stroke="#fafafa" stroke-width="0.5" />
<line x1="77.00" y1="565.60" x2="289.60" y2="565.60" stroke="#fafafa" stroke-width="0.5" />
<line x1="77.00" y1="517.80" x2="289.60" y2="517.80" stroke="#fafafa" stroke-width="0.5" />
<line x1="77.00" y1="470.00" x2="289.60" y2="470.00" stroke="#fafafa" stroke-width="0.5" />
<line x1="86.60" y1="452.80" x2="86.60" y2="645.90" stroke="#ffffff" stroke-width="1.0" />
<line x1="130.65" y1="452.80" x2="130.65" y2="645.90" stroke="#ffffff" stroke-width="1.0" />
<line x1="174.70" y1="452.80" x2="174.70" y2="645.90" stroke="#ffffff" stroke-width="1.0" />
<line x1="218.75" y1="452.80" x2="218.75" y2="645.90" stroke="#ffffff" stroke-width="1.0" />
<line x1="262.80" y1="452.80" x2="262.80" y2="645.90" stroke="#ffffff" stroke-width="1.0" />
<line x1="77.00" y1="637.30" x2="289.60" y2="637.30" stroke="#ffffff" stroke-width="1.0" />
<line x1="77.00" y1="589.50" x2="289.60" y2="589.50" stroke="#ffffff" stroke-width="1.0" />
<line x1="77.00" y1="541.70" x2="289.60" y2="541.70" stroke="#ffffff" stroke-width="1.0" />
<line x1="77.00" y1="493.90" x2="289.60" y2="493.90" stroke="#ffffff" stroke-width="1.0" />
<line x1="75.00" y1="637.30" x2="77.00" y2="637.30" stroke="#999" stroke-width="1.0" />
<text x="66.2" y="644.8" font-size="14.0" text-anchor="end" font-weight="normal" font-style="normal" fill="#1a1a1a" >0</text>
<line x1="75.00" y1="589.50" x2="77.00" y2="589.50" stroke="#999" stroke-width="1.0" />
<text x="66.2" y="597.0" font-size="14.0" text-anchor="end" font-weight="normal" font-style="normal" fill="#1a1a1a" >200</text>
<line x1="75.00" y1="541.70" x2="77.00" y2="541.70" stroke="#999" stroke-width="1.0" />
<text x="66.2" y="549.2" font-size="14.0" text-anchor="end" font-weight="normal" font-style="normal" fill="#1a1a1a" >400</text>
<line x1="75.00" y1="493.90" x2="77.00" y2="493.90" stroke="#999" stroke-width="1.0" />
<text x="66.2" y="501.4" font-size="14.0" text-anchor="end" font-weight="normal" font-style="normal" fill="#1a1a1a" >600</text>
<line x1="86.60" y1="645.90" x2="86.60" y2="648.10" stroke="#999" stroke-width="1.0" />
<line x1="130.65" y1="645.90" x2="130.65" y2="648.10" stroke="#999" stroke-width="1.0" />
<line x1="174.70" y1="645.90" x2="174.70" y2="648.10" stroke="#999" stroke-width="1.0" />
<line x1="218.75" y1="645.90" x2="218.75" y2="648.10" stroke="#999" stroke-width="1.0" />
<line x1="262.80" y1="645.90" x2="262.80" y2="648.10" stroke="#999" stroke-width="1.0" />
<circle cx="143.4" cy="465.4" r="1.15" fill="#4fe3d3"/>
<circle cx="149.8" cy="461.5" r="1.15" fill="#4fe3d3"/>
<circle cx="176.5" cy="497.8" r="1.15" fill="#4fe3d3"/>
<circle cx="247.1" cy="497.8" r="1.15" fill="#4fe3d3"/>
<circle cx="269.9" cy="528.3" r="1.15" fill="#4fe3d3"/>
<circle cx="108.7" cy="531.6" r="1.15" fill="#4fe3d3"/>
<circle cx="103.9" cy="541.8" r="1.15" fill="#4fe3d3"/>
<circle cx="101.3" cy="544.1" r="1.15" fill="#4fe3d3"/>
<circle cx="104.9" cy="549.2" r="1.15" fill="#4fe3d3"/>
<circle cx="117.7" cy="545.0" r="1.15" fill="#4fe3d3"/>
<circle cx="111.4" cy="547.5" r="1.15" fill="#4fe3d3"/>
<circle cx="125.4" cy="552.1" r="1.15" fill="#4fe3d3"/>
<circle cx="161.7" cy="537.7" r="1.15" fill="#4fe3d3"/>
<circle cx="166.5" cy="569.4" r="1.15" fill="#4fe3d3"/>
<circle cx="184.2" cy="572.7" r="1.15" fill="#4fe3d3"/>
<circle cx="141.5" cy="565.9" r="1.15" fill="#4fe3d3"/>
<circle cx="142.2" cy="570.2" r="1.15" fill="#4fe3d3"/>
<circle cx="109.0" cy="531.4" r="1.15" fill="#4fe3d3"/>
<circle cx="101.6" cy="544.2" r="1.15" fill="#4fe3d3"/>
<circle cx="104.5" cy="541.7" r="1.15" fill="#4fe3d3"/>
<circle cx="118.1" cy="545.0" r="1.15" fill="#4fe3d3"/>
<circle cx="105.0" cy="549.4" r="1.15" fill="#4fe3d3"/>
<circle cx="125.8" cy="552.3" r="1.15" fill="#4fe3d3"/>
<circle cx="87.1" cy="559.0" r="1.15" fill="#4fe3d3"/>
<circle cx="89.2" cy="568.7" r="1.15" fill="#4fe3d3"/>
<circle cx="88.2" cy="566.7" r="1.15" fill="#4fe3d3"/>
<circle cx="132.1" cy="578.8" r="1.15" fill="#4fe3d3"/>
<circle cx="86.8" cy="580.7" r="1.15" fill="#4fe3d3"/>
<circle cx="86.8" cy="583.7" r="1.15" fill="#4fe3d3"/>
<circle cx="86.4" cy="586.2" r="1.15" fill="#4fe3d3"/>
<circle cx="87.5" cy="587.7" r="1.15" fill="#4fe3d3"/>
<circle cx="93.2" cy="585.5" r="1.15" fill="#4fe3d3"/>
<circle cx="94.9" cy="589.5" r="1.15" fill="#4fe3d3"/>
<circle cx="116.0" cy="583.1" r="1.15" fill="#4fe3d3"/>
<circle cx="127.0" cy="586.0" r="1.15" fill="#4fe3d3"/>
<circle cx="128.6" cy="585.2" r="1.15" fill="#4fe3d3"/>
<circle cx="136.3" cy="584.2" r="1.15" fill="#4fe3d3"/>
<circle cx="89.2" cy="593.2" r="1.15" fill="#4fe3d3"/>
<circle cx="88.4" cy="595.1" r="1.15" fill="#4fe3d3"/>
<circle cx="116.5" cy="595.9" r="1.15" fill="#4fe3d3"/>
<circle cx="86.8" cy="599.7" r="1.15" fill="#4fe3d3"/>
<circle cx="86.8" cy="602.4" r="1.15" fill="#4fe3d3"/>
<circle cx="99.7" cy="602.4" r="1.15" fill="#4fe3d3"/>
<circle cx="105.6" cy="602.8" r="1.15" fill="#4fe3d3"/>
<circle cx="121.3" cy="600.4" r="1.15" fill="#4fe3d3"/>
<circle cx="135.0" cy="603.5" r="1.15" fill="#4fe3d3"/>
<circle cx="90.8" cy="607.2" r="1.15" fill="#4fe3d3"/>
<circle cx="92.4" cy="611.2" r="1.15" fill="#4fe3d3"/>
<circle cx="86.8" cy="611.2" r="1.15" fill="#4fe3d3"/>
<circle cx="118.9" cy="607.5" r="1.15" fill="#4fe3d3"/>
<circle cx="114.1" cy="609.6" r="1.15" fill="#4fe3d3"/>
<circle cx="107.7" cy="611.5" r="1.15" fill="#4fe3d3"/>
<circle cx="105.0" cy="617.2" r="1.15" fill="#4fe3d3"/>
<circle cx="106.8" cy="618.7" r="1.15" fill="#4fe3d3"/>
<circle cx="106.0" cy="620.7" r="1.15" fill="#4fe3d3"/>
<circle cx="109.3" cy="620.2" r="1.15" fill="#4fe3d3"/>
<circle cx="90.8" cy="619.2" r="1.15" fill="#4fe3d3"/>
<circle cx="118.1" cy="621.1" r="1.15" fill="#4fe3d3"/>
<circle cx="86.8" cy="620.8" r="1.15" fill="#4fe3d3"/>
<circle cx="86.8" cy="625.9" r="1.15" fill="#4fe3d3"/>
<circle cx="89.2" cy="626.4" r="1.15" fill="#4fe3d3"/>
<circle cx="91.6" cy="625.3" r="1.15" fill="#4fe3d3"/>
<circle cx="98.9" cy="626.9" r="1.15" fill="#4fe3d3"/>
<circle cx="102.1" cy="624.5" r="1.15" fill="#4fe3d3"/>
<circle cx="142.2" cy="630.4" r="1.15" fill="#4fe3d3"/>
<circle cx="95.0" cy="585.7" r="1.15" fill="#4fe3d3"/>
<circle cx="88.0" cy="578.7" r="1.15" fill="#4fe3d3"/>
<circle cx="100.5" cy="605.7" r="1.15" fill="#4fe3d3"/>
<circle cx="97.0" cy="593.7" r="1.15" fill="#4fe3d3"/>
<circle cx="112.0" cy="612.7" r="1.15" fill="#4fe3d3"/>
<circle cx="123.0" cy="613.7" r="1.15" fill="#4fe3d3"/>
<circle cx="96.0" cy="616.7" r="1.15" fill="#4fe3d3"/>
<circle cx="109.5" cy="605.2" r="1.15" fill="#4fe3d3"/>
<circle cx="126.2" cy="527.7" r="1.15" fill="#4fe3d3"/>
<circle cx="98.1" cy="539.7" r="1.15" fill="#f4603f"/>
<circle cx="110.1" cy="544.2" r="1.15" fill="#4fe3d3"/>
<circle cx="87.1" cy="556.6" r="1.15" fill="#f4603f"/>
<circle cx="87.3" cy="557.7" r="1.15" fill="#4fe3d3"/>
<circle cx="113.6" cy="568.6" r="1.15" fill="#4fe3d3"/>
<circle cx="126.2" cy="569.0" r="1.15" fill="#4fe3d3"/>
<circle cx="130.5" cy="572.3" r="1.15" fill="#f4603f"/>
<circle cx="87.6" cy="573.1" r="1.15" fill="#4fe3d3"/>
<circle cx="98.9" cy="578.8" r="1.15" fill="#4fe3d3"/>
<circle cx="137.1" cy="577.5" r="1.15" fill="#4fe3d3"/>
<circle cx="88.9" cy="582.3" r="1.15" fill="#4fe3d3"/>
<circle cx="118.1" cy="583.1" r="1.15" fill="#4fe3d3"/>
<circle cx="106.1" cy="590.3" r="1.15" fill="#f4603f"/>
<circle cx="92.4" cy="594.0" r="1.15" fill="#4fe3d3"/>
<circle cx="91.4" cy="594.7" r="1.15" fill="#4fe3d3"/>
<circle cx="86.8" cy="595.2" r="1.15" fill="#4fe3d3"/>
<circle cx="88.4" cy="596.2" r="1.15" fill="#4fe3d3"/>
<circle cx="131.0" cy="600.7" r="1.15" fill="#f4603f"/>
<circle cx="96.5" cy="607.5" r="1.15" fill="#4fe3d3"/>
<circle cx="102.9" cy="602.4" r="1.15" fill="#4fe3d3"/>
<circle cx="106.9" cy="602.4" r="1.15" fill="#f4603f"/>
<circle cx="133.9" cy="602.4" r="1.15" fill="#4fe3d3"/>
<circle cx="130.2" cy="605.9" r="1.15" fill="#4fe3d3"/>
<circle cx="120.5" cy="606.4" r="1.15" fill="#f4603f"/>
<circle cx="109.3" cy="609.1" r="1.15" fill="#4fe3d3"/>
<circle cx="114.9" cy="611.2" r="1.15" fill="#4fe3d3"/>
<circle cx="119.4" cy="610.4" r="1.15" fill="#4fe3d3"/>
<circle cx="126.2" cy="611.2" r="1.15" fill="#4fe3d3"/>
<circle cx="105.6" cy="612.0" r="1.15" fill="#f4603f"/>
<circle cx="94.9" cy="613.6" r="1.15" fill="#f4603f"/>
<circle cx="101.8" cy="613.6" r="1.15" fill="#f4603f"/>
<circle cx="119.4" cy="613.3" r="1.15" fill="#4fe3d3"/>
<circle cx="128.6" cy="613.6" r="1.15" fill="#f4603f"/>
<circle cx="130.6" cy="614.4" r="1.15" fill="#f4603f"/>
<circle cx="111.4" cy="614.7" r="1.15" fill="#4fe3d3"/>
<circle cx="86.8" cy="606.4" r="1.15" fill="#f4603f"/>
<circle cx="86.8" cy="608.7" r="1.15" fill="#f4603f"/>
<circle cx="86.8" cy="615.5" r="1.15" fill="#f4603f"/>
<circle cx="90.8" cy="615.5" r="1.15" fill="#f4603f"/>
<circle cx="116.0" cy="617.6" r="1.15" fill="#f4603f"/>
<circle cx="139.8" cy="619.7" r="1.15" fill="#4fe3d3"/>
<circle cx="96.5" cy="624.0" r="1.15" fill="#4fe3d3"/>
<circle cx="105.3" cy="625.3" r="1.15" fill="#f4603f"/>
<circle cx="116.0" cy="629.2" r="1.15" fill="#4fe3d3"/>
<circle cx="263.5" cy="526.1" r="1.15" fill="#4fe3d3"/>
<circle cx="116.1" cy="495.9" r="1.15" fill="#4fe3d3"/>
<circle cx="126.4" cy="527.7" r="1.15" fill="#4fe3d3"/>
<circle cx="98.1" cy="540.2" r="1.15" fill="#4fe3d3"/>
<circle cx="109.7" cy="544.1" r="1.15" fill="#4fe3d3"/>
<circle cx="86.9" cy="560.7" r="1.15" fill="#4fe3d3"/>
<circle cx="87.2" cy="569.7" r="1.15" fill="#4fe3d3"/>
<circle cx="113.6" cy="568.7" r="1.15" fill="#4fe3d3"/>
<circle cx="128.0" cy="613.3" r="1.15" fill="#4fe3d3"/>
<circle cx="86.8" cy="598.7" r="1.15" fill="#4fe3d3"/>
<circle cx="100.0" cy="596.2" r="1.15" fill="#4fe3d3"/>
<circle cx="142.2" cy="567.0" r="1.15" fill="#f4603f"/>
<circle cx="173.8" cy="572.8" r="1.15" fill="#f4603f"/>
<circle cx="121.7" cy="594.0" r="1.15" fill="#f4603f"/>
<circle cx="152.6" cy="601.5" r="1.15" fill="#f4603f"/>
<circle cx="90.8" cy="610.4" r="1.15" fill="#f4603f"/>
<circle cx="98.5" cy="613.6" r="1.15" fill="#f4603f"/>
<circle cx="86.8" cy="616.7" r="1.15" fill="#f4603f"/>
<circle cx="86.8" cy="625.3" r="1.15" fill="#f4603f"/>
<circle cx="101.4" cy="593.2" r="1.15" fill="#f4603f"/>
<circle cx="242.3" cy="608.6" r="1.15" fill="#f4603f"/>
<circle cx="91.8" cy="610.4" r="1.15" fill="#f4603f"/>
<circle cx="94.5" cy="610.2" r="1.15" fill="#f4603f"/>
<circle cx="95.7" cy="586.8" r="1.15" fill="#8a2ff0"/>
<circle cx="122.9" cy="613.3" r="1.15" fill="#8a2ff0"/>
<circle cx="94.9" cy="626.9" r="1.15" fill="#8a2ff0"/>
<circle cx="98.5" cy="629.6" r="1.15" fill="#8a2ff0"/>
<circle cx="137.4" cy="628.4" r="1.15" fill="#8a2ff0"/>
<circle cx="143.0" cy="628.2" r="1.15" fill="#8a2ff0"/>
<circle cx="145.0" cy="627.4" r="1.15" fill="#8a2ff0"/>
<circle cx="171.4" cy="631.6" r="1.15" fill="#8a2ff0"/>
<circle cx="176.0" cy="632.7" r="1.15" fill="#8a2ff0"/>
<circle cx="89.7" cy="614.2" r="1.15" fill="#8a2ff0"/>
<circle cx="91.0" cy="625.7" r="1.15" fill="#8a2ff0"/>
<circle cx="90.3" cy="632.6" r="1.15" fill="#8a2ff0"/>
<circle cx="97.4" cy="632.1" r="1.15" fill="#8a2ff0"/>
<circle cx="94.5" cy="633.8" r="1.15" fill="#8a2ff0"/>
<circle cx="87.0" cy="634.6" r="1.15" fill="#8a2ff0"/>
<circle cx="86.9" cy="634.2" r="1.15" fill="#8a2ff0"/>
<circle cx="87.1" cy="632.2" r="1.15" fill="#8a2ff0"/>
<circle cx="92.1" cy="636.5" r="1.15" fill="#8a2ff0"/>
<circle cx="87.5" cy="633.0" r="1.15" fill="#8a2ff0"/>
<circle cx="96.8" cy="637.2" r="1.15" fill="#8a2ff0"/>
<circle cx="95.5" cy="634.0" r="1.15" fill="#8a2ff0"/>
<circle cx="107.0" cy="632.0" r="1.15" fill="#8a2ff0"/>
<circle cx="103.3" cy="633.4" r="1.15" fill="#8a2ff0"/>
<circle cx="87.7" cy="632.4" r="1.15" fill="#8a2ff0"/>
<circle cx="90.0" cy="636.4" r="1.15" fill="#8a2ff0"/>
<circle cx="88.2" cy="635.1" r="1.15" fill="#8a2ff0"/>
<circle cx="97.1" cy="633.9" r="1.15" fill="#8a2ff0"/>
<circle cx="94.8" cy="632.1" r="1.15" fill="#8a2ff0"/>
<circle cx="87.0" cy="632.9" r="1.15" fill="#8a2ff0"/>
<circle cx="98.1" cy="634.2" r="1.15" fill="#8a2ff0"/>
<circle cx="90.1" cy="635.1" r="1.15" fill="#8a2ff0"/>
<circle cx="92.7" cy="633.4" r="1.15" fill="#8a2ff0"/>
<circle cx="101.3" cy="635.8" r="1.15" fill="#8a2ff0"/>
<circle cx="89.0" cy="635.0" r="1.15" fill="#8a2ff0"/>
<circle cx="94.3" cy="636.8" r="1.15" fill="#8a2ff0"/>
<circle cx="99.5" cy="633.4" r="1.15" fill="#8a2ff0"/>
<circle cx="107.1" cy="632.4" r="1.15" fill="#8a2ff0"/>
<circle cx="92.0" cy="636.1" r="1.15" fill="#8a2ff0"/>
<circle cx="87.8" cy="634.5" r="1.15" fill="#8a2ff0"/>
<circle cx="86.9" cy="635.6" r="1.15" fill="#8a2ff0"/>
<circle cx="100.5" cy="635.0" r="1.15" fill="#8a2ff0"/>
<circle cx="103.8" cy="633.5" r="1.15" fill="#8a2ff0"/>
<circle cx="98.5" cy="635.1" r="1.15" fill="#8a2ff0"/>
<circle cx="95.6" cy="634.3" r="1.15" fill="#8a2ff0"/>
<circle cx="102.7" cy="637.2" r="1.15" fill="#8a2ff0"/>
<circle cx="93.2" cy="635.6" r="1.15" fill="#8a2ff0"/>
<circle cx="87.0" cy="635.8" r="1.15" fill="#8a2ff0"/>
<circle cx="97.3" cy="637.5" r="1.15" fill="#8a2ff0"/>
<circle cx="102.1" cy="633.4" r="1.15" fill="#8a2ff0"/>
<circle cx="91.4" cy="635.6" r="1.15" fill="#8a2ff0"/>
<circle cx="86.8" cy="634.4" r="1.15" fill="#8a2ff0"/>
<circle cx="88.0" cy="632.4" r="1.15" fill="#8a2ff0"/>
<circle cx="87.0" cy="636.2" r="1.15" fill="#8a2ff0"/>
<circle cx="87.6" cy="633.1" r="1.15" fill="#8a2ff0"/>
<circle cx="91.5" cy="636.8" r="1.15" fill="#8a2ff0"/>
<circle cx="87.2" cy="634.3" r="1.15" fill="#8a2ff0"/>
<circle cx="94.9" cy="636.8" r="1.15" fill="#8a2ff0"/>
<circle cx="102.1" cy="636.7" r="1.15" fill="#8a2ff0"/>
<circle cx="89.5" cy="634.1" r="1.15" fill="#8a2ff0"/>
<circle cx="90.9" cy="636.8" r="1.15" fill="#8a2ff0"/>
<circle cx="106.4" cy="632.6" r="1.15" fill="#8a2ff0"/>
<circle cx="88.1" cy="633.0" r="1.15" fill="#8a2ff0"/>
<circle cx="88.8" cy="634.5" r="1.15" fill="#8a2ff0"/>
<circle cx="95.8" cy="633.2" r="1.15" fill="#8a2ff0"/>
<circle cx="86.8" cy="634.1" r="1.15" fill="#8a2ff0"/>
<circle cx="91.1" cy="635.0" r="1.15" fill="#8a2ff0"/>
<circle cx="106.2" cy="635.7" r="1.15" fill="#8a2ff0"/>
<circle cx="94.1" cy="635.3" r="1.15" fill="#8a2ff0"/>
<circle cx="98.0" cy="632.0" r="1.15" fill="#8a2ff0"/>
<circle cx="104.5" cy="636.2" r="1.15" fill="#8a2ff0"/>
<circle cx="103.7" cy="636.3" r="1.15" fill="#8a2ff0"/>
<circle cx="91.5" cy="634.0" r="1.15" fill="#8a2ff0"/>
<circle cx="87.4" cy="635.4" r="1.15" fill="#8a2ff0"/>
<circle cx="87.0" cy="632.1" r="1.15" fill="#8a2ff0"/>
<circle cx="88.5" cy="632.6" r="1.15" fill="#8a2ff0"/>
<circle cx="90.5" cy="632.0" r="1.15" fill="#8a2ff0"/>
<circle cx="86.8" cy="632.6" r="1.15" fill="#8a2ff0"/>
<circle cx="87.3" cy="633.8" r="1.15" fill="#8a2ff0"/>
<circle cx="86.9" cy="636.8" r="1.15" fill="#8a2ff0"/>
<circle cx="96.4" cy="632.6" r="1.15" fill="#8a2ff0"/>
<circle cx="89.1" cy="633.7" r="1.15" fill="#8a2ff0"/>
<circle cx="91.0" cy="632.4" r="1.15" fill="#8a2ff0"/>
<circle cx="103.0" cy="637.5" r="1.15" fill="#8a2ff0"/>
<circle cx="93.0" cy="634.5" r="1.15" fill="#8a2ff0"/>
<circle cx="87.2" cy="632.3" r="1.15" fill="#8a2ff0"/>
<circle cx="90.6" cy="633.2" r="1.15" fill="#8a2ff0"/>
<circle cx="102.4" cy="632.6" r="1.15" fill="#8a2ff0"/>
<circle cx="86.9" cy="637.2" r="1.15" fill="#8a2ff0"/>
<circle cx="94.4" cy="632.6" r="1.15" fill="#8a2ff0"/>
<circle cx="94.7" cy="631.9" r="1.15" fill="#8a2ff0"/>
<circle cx="94.4" cy="637.4" r="1.15" fill="#8a2ff0"/>
<circle cx="103.4" cy="635.7" r="1.15" fill="#8a2ff0"/>
<circle cx="89.2" cy="633.8" r="1.15" fill="#8a2ff0"/>
<circle cx="88.0" cy="636.2" r="1.15" fill="#8a2ff0"/>
<circle cx="94.5" cy="636.2" r="1.15" fill="#8a2ff0"/>
<circle cx="90.4" cy="633.0" r="1.15" fill="#8a2ff0"/>
<circle cx="101.8" cy="637.4" r="1.15" fill="#8a2ff0"/>
<circle cx="103.1" cy="636.4" r="1.15" fill="#8a2ff0"/>
<circle cx="102.0" cy="636.0" r="1.15" fill="#8a2ff0"/>
<circle cx="88.8" cy="634.7" r="1.15" fill="#8a2ff0"/>
<circle cx="90.8" cy="631.9" r="1.15" fill="#8a2ff0"/>
<circle cx="86.9" cy="633.3" r="1.15" fill="#8a2ff0"/>
<circle cx="89.2" cy="635.7" r="1.15" fill="#8a2ff0"/>
<circle cx="106.4" cy="634.3" r="1.15" fill="#8a2ff0"/>
<circle cx="105.7" cy="637.4" r="1.15" fill="#8a2ff0"/>
<circle cx="106.3" cy="633.8" r="1.15" fill="#8a2ff0"/>
<circle cx="88.7" cy="633.0" r="1.15" fill="#8a2ff0"/>
<circle cx="88.4" cy="632.9" r="1.15" fill="#8a2ff0"/>
<circle cx="96.7" cy="636.9" r="1.15" fill="#8a2ff0"/>
<circle cx="102.7" cy="634.5" r="1.15" fill="#8a2ff0"/>
<circle cx="97.4" cy="636.3" r="1.15" fill="#8a2ff0"/>
<circle cx="87.2" cy="635.5" r="1.15" fill="#8a2ff0"/>
<circle cx="104.9" cy="636.2" r="1.15" fill="#8a2ff0"/>
<circle cx="100.1" cy="634.5" r="1.15" fill="#8a2ff0"/>
<circle cx="88.1" cy="636.3" r="1.15" fill="#8a2ff0"/>
<circle cx="90.4" cy="636.3" r="1.15" fill="#8a2ff0"/>
<circle cx="106.9" cy="634.0" r="1.15" fill="#8a2ff0"/>
<circle cx="91.7" cy="637.2" r="1.15" fill="#8a2ff0"/>
<circle cx="99.3" cy="632.7" r="1.15" fill="#8a2ff0"/>
<circle cx="87.6" cy="632.6" r="1.15" fill="#8a2ff0"/>
<circle cx="104.7" cy="636.4" r="1.15" fill="#8a2ff0"/>
<circle cx="87.8" cy="636.5" r="1.15" fill="#8a2ff0"/>
<circle cx="107.1" cy="635.5" r="1.15" fill="#8a2ff0"/>
<circle cx="90.7" cy="634.9" r="1.15" fill="#8a2ff0"/>
<circle cx="87.6" cy="631.8" r="1.15" fill="#8a2ff0"/>
<circle cx="106.8" cy="635.5" r="1.15" fill="#8a2ff0"/>
<circle cx="117.6" cy="637.7" r="1.15" fill="#8a2ff0"/>
<circle cx="115.5" cy="637.4" r="1.15" fill="#8a2ff0"/>
<circle cx="124.2" cy="633.5" r="1.15" fill="#8a2ff0"/>
<circle cx="111.5" cy="634.0" r="1.15" fill="#8a2ff0"/>
<circle cx="111.3" cy="635.7" r="1.15" fill="#8a2ff0"/>
<circle cx="111.7" cy="634.7" r="1.15" fill="#8a2ff0"/>
<circle cx="108.9" cy="637.6" r="1.15" fill="#8a2ff0"/>
<circle cx="113.8" cy="635.0" r="1.15" fill="#8a2ff0"/>
<circle cx="118.8" cy="637.5" r="1.15" fill="#8a2ff0"/>
<circle cx="115.3" cy="637.6" r="1.15" fill="#8a2ff0"/>
<circle cx="117.0" cy="635.4" r="1.15" fill="#8a2ff0"/>
<circle cx="117.5" cy="632.4" r="1.15" fill="#8a2ff0"/>
<circle cx="115.7" cy="633.4" r="1.15" fill="#8a2ff0"/>
<circle cx="106.1" cy="636.9" r="1.15" fill="#8a2ff0"/>
<circle cx="109.8" cy="635.0" r="1.15" fill="#8a2ff0"/>
<circle cx="122.0" cy="635.5" r="1.15" fill="#8a2ff0"/>
<circle cx="113.2" cy="635.3" r="1.15" fill="#8a2ff0"/>
<circle cx="118.2" cy="636.8" r="1.15" fill="#8a2ff0"/>
<circle cx="108.3" cy="635.5" r="1.15" fill="#8a2ff0"/>
<circle cx="111.5" cy="633.9" r="1.15" fill="#8a2ff0"/>
<circle cx="123.0" cy="635.2" r="1.15" fill="#8a2ff0"/>
<circle cx="118.4" cy="636.7" r="1.15" fill="#8a2ff0"/>
<circle cx="126.1" cy="634.9" r="1.15" fill="#8a2ff0"/>
<circle cx="119.5" cy="635.2" r="1.15" fill="#8a2ff0"/>
<circle cx="117.3" cy="636.3" r="1.15" fill="#8a2ff0"/>
<circle cx="116.0" cy="635.4" r="1.15" fill="#8a2ff0"/>
<circle cx="116.5" cy="637.8" r="1.15" fill="#8a2ff0"/>
<circle cx="121.4" cy="637.4" r="1.15" fill="#8a2ff0"/>
<circle cx="126.7" cy="633.8" r="1.15" fill="#8a2ff0"/>
<circle cx="118.3" cy="637.8" r="1.15" fill="#8a2ff0"/>
<circle cx="124.5" cy="633.1" r="1.15" fill="#8a2ff0"/>
<circle cx="108.7" cy="634.9" r="1.15" fill="#8a2ff0"/>
<circle cx="107.6" cy="633.7" r="1.15" fill="#8a2ff0"/>
<circle cx="107.6" cy="636.2" r="1.15" fill="#8a2ff0"/>
<circle cx="143.7" cy="637.2" r="1.15" fill="#8a2ff0"/>
<circle cx="131.1" cy="636.3" r="1.15" fill="#8a2ff0"/>
<circle cx="141.2" cy="633.4" r="1.15" fill="#8a2ff0"/>
<circle cx="145.7" cy="637.5" r="1.15" fill="#8a2ff0"/>
<circle cx="132.4" cy="637.5" r="1.15" fill="#8a2ff0"/>
<circle cx="136.0" cy="635.1" r="1.15" fill="#8a2ff0"/>
<circle cx="147.8" cy="636.9" r="1.15" fill="#8a2ff0"/>
<circle cx="131.2" cy="634.9" r="1.15" fill="#8a2ff0"/>
<circle cx="138.3" cy="634.4" r="1.15" fill="#8a2ff0"/>
<circle cx="131.9" cy="634.3" r="1.15" fill="#8a2ff0"/>
<circle cx="142.4" cy="632.8" r="1.15" fill="#8a2ff0"/>
<circle cx="139.1" cy="634.9" r="1.15" fill="#8a2ff0"/>
<circle cx="128.4" cy="634.4" r="1.15" fill="#8a2ff0"/>
<circle cx="140.5" cy="635.3" r="1.15" fill="#8a2ff0"/>
<line x1="86.60" y1="599.90" x2="269.90" y2="509.80" stroke="#4fe3d3" stroke-width="1.3" />
<line x1="86.70" y1="597.90" x2="242.60" y2="593.00" stroke="#f4603f" stroke-width="1.3" />
<line x1="86.60" y1="635.80" x2="289.60" y2="632.00" stroke="#8a2ff0" stroke-width="1.3" />
<rect x="291.60" y="501.70" width="18.60" height="12.60" fill="#f2f2f2" stroke="none" stroke-width="1" />
<line x1="293.40" y1="508.00" x2="309.00" y2="508.00" stroke="#4fe3d3" stroke-width="1.5" />
<circle cx="301.2" cy="508.0" r="2.0" fill="#4fe3d3"/>
<text x="316.2" y="511.4" font-size="10.0" text-anchor="start" font-weight="normal" font-style="normal" fill="#1a1a1a" >G&#8722;t(11;14)</text>
<rect x="291.60" y="585.00" width="18.60" height="12.60" fill="#f2f2f2" stroke="none" stroke-width="1" />
<line x1="293.40" y1="591.30" x2="309.00" y2="591.30" stroke="#f4603f" stroke-width="1.5" />
<circle cx="301.2" cy="591.3" r="2.0" fill="#f4603f"/>
<text x="317.2" y="594.7" font-size="10.0" text-anchor="start" font-weight="normal" font-style="normal" fill="#1a1a1a" >A&#8722;t(11;14)</text>
<rect x="291.60" y="626.40" width="18.60" height="12.60" fill="#f2f2f2" stroke="none" stroke-width="1" />
<line x1="293.40" y1="632.70" x2="309.00" y2="632.70" stroke="#8a2ff0" stroke-width="1.5" />
<circle cx="301.2" cy="632.7" r="2.0" fill="#8a2ff0"/>
<text x="316.0" y="636.1" font-size="10.0" text-anchor="start" font-weight="normal" font-style="normal" fill="#1a1a1a" >Non&#8722;t(11;14)</text>
<text x="86.6" y="664.3" font-size="13.6" text-anchor="middle" font-weight="normal" font-style="normal" fill="#1a1a1a" >0.0</text>
<text x="130.6" y="664.3" font-size="13.6" text-anchor="middle" font-weight="normal" font-style="normal" fill="#1a1a1a" >0.5</text>
<text x="174.7" y="664.3" font-size="13.6" text-anchor="middle" font-weight="normal" font-style="normal" fill="#1a1a1a" >1.0</text>
<text x="218.7" y="664.3" font-size="13.6" text-anchor="middle" font-weight="normal" font-style="normal" fill="#1a1a1a" >1.5</text>
<text x="262.8" y="664.3" font-size="13.6" text-anchor="middle" font-weight="normal" font-style="normal" fill="#1a1a1a" >2.0</text>
<text x="131.1" y="681.0" font-size="15.5" text-anchor="start" font-weight="normal" font-style="normal" fill="#1a1a1a" ><tspan font-style="italic">PAX5</tspan> expression</text>
<text transform="translate(34.6,488.6) rotate(-90)" font-size="14.0" fill="#1a1a1a"><tspan font-style="italic">CCND1</tspan> expression</text>
<rect x="464.90" y="29.10" width="209.50" height="68.00" fill="none" stroke="#ababab" stroke-width="1.1" />
<line x1="472.40" y1="97.10" x2="472.40" y2="99.10" stroke="#777" stroke-width="0.9" />
<text x="472.4" y="109.8" font-size="10.5" text-anchor="middle" font-weight="normal" font-style="normal" fill="#1a1a1a" >0</text>
<line x1="515.23" y1="97.10" x2="515.23" y2="99.10" stroke="#777" stroke-width="0.9" />
<text x="515.2" y="109.8" font-size="10.5" text-anchor="middle" font-weight="normal" font-style="normal" fill="#1a1a1a" >100</text>
<line x1="558.06" y1="97.10" x2="558.06" y2="99.10" stroke="#777" stroke-width="0.9" />
<text x="558.1" y="109.8" font-size="10.5" text-anchor="middle" font-weight="normal" font-style="normal" fill="#1a1a1a" >200</text>
<line x1="600.89" y1="97.10" x2="600.89" y2="99.10" stroke="#777" stroke-width="0.9" />
<text x="600.9" y="109.8" font-size="10.5" text-anchor="middle" font-weight="normal" font-style="normal" fill="#1a1a1a" >300</text>
<line x1="643.72" y1="97.10" x2="643.72" y2="99.10" stroke="#777" stroke-width="0.9" />
<text x="643.7" y="109.8" font-size="10.5" text-anchor="middle" font-weight="normal" font-style="normal" fill="#1a1a1a" >400</text>
<line x1="461.50" y1="39.50" x2="464.90" y2="39.50" stroke="#888" stroke-width="0.9" />
<text x="458.8" y="42.7" font-size="10.15" text-anchor="end" font-weight="normal" font-style="normal" fill="#1a1a1a" >GG&#8722;t(11;14)</text>
<line x1="461.50" y1="55.40" x2="464.90" y2="55.40" stroke="#888" stroke-width="0.9" />
<text x="458.8" y="58.6" font-size="10.15" text-anchor="end" font-weight="normal" font-style="normal" fill="#1a1a1a" >GA&#8722;t(11;14)</text>
<line x1="461.50" y1="71.20" x2="464.90" y2="71.20" stroke="#888" stroke-width="0.9" />
<text x="458.8" y="74.4" font-size="10.15" text-anchor="end" font-weight="normal" font-style="normal" fill="#1a1a1a" >AA&#8722;t(11;14)</text>
<line x1="461.50" y1="86.60" x2="464.90" y2="86.60" stroke="#888" stroke-width="0.9" />
<text x="458.8" y="89.8" font-size="10.15" text-anchor="end" font-weight="normal" font-style="normal" fill="#1a1a1a" >Non&#8722;t(11;14)</text>
<line x1="484.50" y1="39.50" x2="518.90" y2="39.50" stroke="#ecb0b6" stroke-width="0.8" stroke-dasharray="1.6,2.2"/>
<line x1="484.50" y1="36.30" x2="484.50" y2="42.70" stroke="#dc8a92" stroke-width="1.2" />
<line x1="593.60" y1="39.50" x2="666.30" y2="39.50" stroke="#ecb0b6" stroke-width="0.8" stroke-dasharray="1.6,2.2"/>
<line x1="666.30" y1="36.30" x2="666.30" y2="42.70" stroke="#dc8a92" stroke-width="1.2" />
<polygon points="518.90,33.30 534.30,33.30 548.40,36.20 562.60,33.30 593.60,33.30 593.60,45.50 562.60,45.50 548.40,42.80 534.30,45.50 518.90,45.50" fill="#66eede" stroke="#3a9a90" stroke-width="0.6"/>
<line x1="548.40" y1="36.20" x2="548.40" y2="42.80" stroke="#8a2a2a" stroke-width="1.7" />
<line x1="487.10" y1="55.40" x2="517.90" y2="55.40" stroke="#ecb0b6" stroke-width="0.8" stroke-dasharray="1.6,2.2"/>
<line x1="487.10" y1="52.20" x2="487.10" y2="58.60" stroke="#dc8a92" stroke-width="1.2" />
<line x1="570.20" y1="55.40" x2="645.80" y2="55.40" stroke="#ecb0b6" stroke-width="0.8" stroke-dasharray="1.6,2.2"/>
<line x1="645.80" y1="52.20" x2="645.80" y2="58.60" stroke="#dc8a92" stroke-width="1.2" />
<polygon points="517.90,49.00 527.10,49.00 537.60,52.30 548.80,49.00 570.20,49.00 570.20,61.60 548.80,61.60 537.60,58.50 527.10,61.60 517.90,61.60" fill="#cc8824" stroke="#8a5a10" stroke-width="0.6"/>
<line x1="537.60" y1="52.30" x2="537.60" y2="58.50" stroke="#8a2a2a" stroke-width="1.7" />
<line x1="494.70" y1="71.20" x2="518.00" y2="71.20" stroke="#ecb0b6" stroke-width="0.8" stroke-dasharray="1.6,2.2"/>
<line x1="494.70" y1="68.00" x2="494.70" y2="74.40" stroke="#dc8a92" stroke-width="1.2" />
<line x1="568.70" y1="71.20" x2="614.70" y2="71.20" stroke="#ecb0b6" stroke-width="0.8" stroke-dasharray="1.6,2.2"/>
<line x1="614.70" y1="68.00" x2="614.70" y2="74.40" stroke="#dc8a92" stroke-width="1.2" />
<polygon points="518.00,64.80 512.60,64.80 536.30,67.60 559.90,64.80 568.70,64.80 568.70,77.60 559.90,77.60 536.30,74.40 512.60,77.60 518.00,77.60" fill="#f65e46" stroke="#b04030" stroke-width="0.6"/>
<line x1="536.30" y1="67.60" x2="536.30" y2="74.40" stroke="#8a2a2a" stroke-width="1.7" />
<line x1="476.30" y1="86.60" x2="481.20" y2="86.60" stroke="#ecb0b6" stroke-width="0.8" stroke-dasharray="1.6,2.2"/>
<line x1="481.20" y1="83.40" x2="481.20" y2="89.80" stroke="#dc8a92" stroke-width="1.2" />
<polygon points="472.80,80.40 472.80,80.40 473.60,80.40 474.40,80.40 476.30,80.40 476.30,92.80 474.40,92.80 473.60,92.80 472.80,92.80 472.80,92.80" fill="#9412f2" stroke="none" stroke-width="0.6"/>
<line x1="473.60" y1="80.40" x2="473.60" y2="92.80" stroke="#8a2a2a" stroke-width="1.7" />
<rect x="464.90" y="118.20" width="209.50" height="67.10" fill="none" stroke="#ababab" stroke-width="1.1" />
<line x1="472.40" y1="185.30" x2="472.40" y2="187.30" stroke="#777" stroke-width="0.9" />
<text x="472.4" y="198.0" font-size="10.5" text-anchor="middle" font-weight="normal" font-style="normal" fill="#1a1a1a" >0</text>
<line x1="514.04" y1="185.30" x2="514.04" y2="187.30" stroke="#777" stroke-width="0.9" />
<text x="514.0" y="198.0" font-size="10.5" text-anchor="middle" font-weight="normal" font-style="normal" fill="#1a1a1a" >50</text>
<line x1="555.68" y1="185.30" x2="555.68" y2="187.30" stroke="#777" stroke-width="0.9" />
<text x="555.7" y="198.0" font-size="10.5" text-anchor="middle" font-weight="normal" font-style="normal" fill="#1a1a1a" >100</text>
<line x1="597.32" y1="185.30" x2="597.32" y2="187.30" stroke="#777" stroke-width="0.9" />
<text x="597.3" y="198.0" font-size="10.5" text-anchor="middle" font-weight="normal" font-style="normal" fill="#1a1a1a" >150</text>
<line x1="638.96" y1="185.30" x2="638.96" y2="187.30" stroke="#777" stroke-width="0.9" />
<text x="639.0" y="198.0" font-size="10.5" text-anchor="middle" font-weight="normal" font-style="normal" fill="#1a1a1a" >200</text>
<line x1="461.50" y1="128.40" x2="464.90" y2="128.40" stroke="#888" stroke-width="0.9" />
<text x="458.8" y="131.6" font-size="10.15" text-anchor="end" font-weight="normal" font-style="normal" fill="#1a1a1a" >GG&#8722;t(11;14)</text>
<line x1="461.50" y1="144.20" x2="464.90" y2="144.20" stroke="#888" stroke-width="0.9" />
<text x="458.8" y="147.4" font-size="10.15" text-anchor="end" font-weight="normal" font-style="normal" fill="#1a1a1a" >GA&#8722;t(11;14)</text>
<line x1="461.50" y1="159.60" x2="464.90" y2="159.60" stroke="#888" stroke-width="0.9" />
<text x="458.8" y="162.8" font-size="10.15" text-anchor="end" font-weight="normal" font-style="normal" fill="#1a1a1a" >AA&#8722;t(11;14)</text>
<line x1="461.50" y1="175.30" x2="464.90" y2="175.30" stroke="#888" stroke-width="0.9" />
<text x="458.8" y="178.5" font-size="10.15" text-anchor="end" font-weight="normal" font-style="normal" fill="#1a1a1a" >Non&#8722;t(11;14)</text>
<line x1="479.30" y1="128.40" x2="529.20" y2="128.40" stroke="#ecb0b6" stroke-width="0.8" stroke-dasharray="1.6,2.2"/>
<line x1="479.30" y1="125.20" x2="479.30" y2="131.60" stroke="#dc8a92" stroke-width="1.2" />
<line x1="597.30" y1="128.40" x2="666.30" y2="128.40" stroke="#ecb0b6" stroke-width="0.8" stroke-dasharray="1.6,2.2"/>
<line x1="666.30" y1="125.20" x2="666.30" y2="131.60" stroke="#dc8a92" stroke-width="1.2" />
<polygon points="529.20,122.60 546.00,122.60 559.50,125.60 573.10,122.60 597.30,122.60 597.30,134.60 573.10,134.60 559.50,131.40 546.00,134.60 529.20,134.60" fill="#66eede" stroke="#3a9a90" stroke-width="0.6"/>
<line x1="559.50" y1="125.60" x2="559.50" y2="131.40" stroke="#8a2a2a" stroke-width="1.7" />
<line x1="472.60" y1="144.20" x2="529.20" y2="144.20" stroke="#ecb0b6" stroke-width="0.8" stroke-dasharray="1.6,2.2"/>
<line x1="472.60" y1="141.00" x2="472.60" y2="147.40" stroke="#dc8a92" stroke-width="1.2" />
<line x1="597.70" y1="144.20" x2="659.50" y2="144.20" stroke="#ecb0b6" stroke-width="0.8" stroke-dasharray="1.6,2.2"/>
<line x1="659.50" y1="141.00" x2="659.50" y2="147.40" stroke="#dc8a92" stroke-width="1.2" />
<polygon points="529.20,138.00 538.00,138.00 552.00,141.20 565.00,138.00 597.70,138.00 597.70,150.60 565.00,150.60 552.00,147.40 538.00,150.60 529.20,150.60" fill="#cc8824" stroke="#8a5a10" stroke-width="0.6"/>
<line x1="552.00" y1="141.20" x2="552.00" y2="147.40" stroke="#8a2a2a" stroke-width="1.7" />
<line x1="503.80" y1="159.60" x2="521.00" y2="159.60" stroke="#ecb0b6" stroke-width="0.8" stroke-dasharray="1.6,2.2"/>
<line x1="503.80" y1="156.40" x2="503.80" y2="162.80" stroke="#dc8a92" stroke-width="1.2" />
<line x1="566.90" y1="159.60" x2="583.70" y2="159.60" stroke="#ecb0b6" stroke-width="0.8" stroke-dasharray="1.6,2.2"/>
<line x1="583.70" y1="156.40" x2="583.70" y2="162.80" stroke="#dc8a92" stroke-width="1.2" />
<polygon points="521.00,152.90 527.00,152.90 547.80,156.00 566.30,152.90 566.90,152.90 566.90,166.10 566.30,166.10 547.80,163.00 527.00,166.10 521.00,166.10" fill="#f65e46" stroke="#b04030" stroke-width="0.6"/>
<line x1="547.80" y1="156.00" x2="547.80" y2="163.00" stroke="#8a2a2a" stroke-width="1.7" />
<line x1="475.90" y1="175.30" x2="480.70" y2="175.30" stroke="#ecb0b6" stroke-width="0.8" stroke-dasharray="1.6,2.2"/>
<line x1="480.70" y1="172.10" x2="480.70" y2="178.50" stroke="#dc8a92" stroke-width="1.2" />
<polygon points="472.80,169.20 472.80,169.20 473.60,169.20 474.40,169.20 475.90,169.20 475.90,181.20 474.40,181.20 473.60,181.20 472.80,181.20 472.80,181.20" fill="#9412f2" stroke="none" stroke-width="0.6"/>
<line x1="473.60" y1="169.20" x2="473.60" y2="181.20" stroke="#8a2a2a" stroke-width="1.7" />
<text x="522.6" y="212.8" font-size="10.7" text-anchor="start" font-weight="normal" font-style="normal" fill="#1a1a1a" ><tspan font-style="italic">CCND1</tspan> expression</text>
<rect x="465.70" y="239.50" width="207.70" height="44.00" fill="none" stroke="#ababab" stroke-width="1.1" />
<line x1="505.50" y1="283.50" x2="505.50" y2="285.50" stroke="#777" stroke-width="0.9" />
<text x="505.5" y="296.0" font-size="10.5" text-anchor="middle" font-weight="normal" font-style="normal" fill="#1a1a1a" >100</text>
<line x1="549.40" y1="283.50" x2="549.40" y2="285.50" stroke="#777" stroke-width="0.9" />
<text x="549.4" y="296.0" font-size="10.5" text-anchor="middle" font-weight="normal" font-style="normal" fill="#1a1a1a" >200</text>
<line x1="593.30" y1="283.50" x2="593.30" y2="285.50" stroke="#777" stroke-width="0.9" />
<text x="593.3" y="296.0" font-size="10.5" text-anchor="middle" font-weight="normal" font-style="normal" fill="#1a1a1a" >300</text>
<line x1="637.20" y1="283.50" x2="637.20" y2="285.50" stroke="#777" stroke-width="0.9" />
<text x="637.2" y="296.0" font-size="10.5" text-anchor="middle" font-weight="normal" font-style="normal" fill="#1a1a1a" >400</text>
<line x1="462.30" y1="251.60" x2="465.70" y2="251.60" stroke="#888" stroke-width="0.9" />
<text x="458.8" y="254.5" font-size="10.4" text-anchor="end" font-weight="normal" font-style="normal" fill="#1a1a1a" >G-t(11;14)</text>
<line x1="462.30" y1="272.00" x2="465.70" y2="272.00" stroke="#888" stroke-width="0.9" />
<text x="458.8" y="274.9" font-size="10.4" text-anchor="end" font-weight="normal" font-style="normal" fill="#1a1a1a" >A-t(11;14)</text>
<line x1="473.00" y1="251.60" x2="508.70" y2="251.60" stroke="#ecb0b6" stroke-width="0.8" stroke-dasharray="1.6,2.2"/>
<line x1="473.00" y1="248.40" x2="473.00" y2="254.80" stroke="#dc8a92" stroke-width="1.2" />
<line x1="575.70" y1="251.60" x2="666.00" y2="251.60" stroke="#ecb0b6" stroke-width="0.8" stroke-dasharray="1.6,2.2"/>
<line x1="666.00" y1="248.40" x2="666.00" y2="254.80" stroke="#dc8a92" stroke-width="1.2" />
<polygon points="508.70,245.70 526.30,245.70 537.30,248.70 547.30,245.70 575.70,245.70 575.70,257.90 547.30,257.90 537.30,254.70 526.30,257.90 508.70,257.90" fill="#66eede" stroke="#3a9a90" stroke-width="0.6"/>
<line x1="537.30" y1="248.70" x2="537.30" y2="254.70" stroke="#8a2a2a" stroke-width="1.7" />
<line x1="482.90" y1="272.00" x2="504.50" y2="272.00" stroke="#ecb0b6" stroke-width="0.8" stroke-dasharray="1.6,2.2"/>
<line x1="482.90" y1="268.80" x2="482.90" y2="275.20" stroke="#dc8a92" stroke-width="1.2" />
<line x1="550.70" y1="272.00" x2="607.70" y2="272.00" stroke="#ecb0b6" stroke-width="0.8" stroke-dasharray="1.6,2.2"/>
<line x1="607.70" y1="268.80" x2="607.70" y2="275.20" stroke="#dc8a92" stroke-width="1.2" />
<polygon points="504.50,265.60 511.80,265.60 526.30,268.80 539.40,265.60 550.70,265.60 550.70,278.20 539.40,278.20 526.30,275.00 511.80,278.20 504.50,278.20" fill="#f65e46" stroke="#b04030" stroke-width="0.6"/>
<line x1="526.30" y1="268.80" x2="526.30" y2="275.00" stroke="#8a2a2a" stroke-width="1.7" />
<rect x="465.30" y="307.30" width="208.90" height="43.90" fill="none" stroke="#ababab" stroke-width="1.1" />
<line x1="473.50" y1="351.20" x2="473.50" y2="353.20" stroke="#777" stroke-width="0.9" />
<text x="473.5" y="363.9" font-size="10.5" text-anchor="middle" font-weight="normal" font-style="normal" fill="#1a1a1a" >0</text>
<line x1="507.60" y1="351.20" x2="507.60" y2="353.20" stroke="#777" stroke-width="0.9" />
<text x="507.6" y="363.9" font-size="10.5" text-anchor="middle" font-weight="normal" font-style="normal" fill="#1a1a1a" >50</text>
<line x1="541.70" y1="351.20" x2="541.70" y2="353.20" stroke="#777" stroke-width="0.9" />
<text x="541.7" y="363.9" font-size="10.5" text-anchor="middle" font-weight="normal" font-style="normal" fill="#1a1a1a" >100</text>
<line x1="575.80" y1="351.20" x2="575.80" y2="353.20" stroke="#777" stroke-width="0.9" />
<text x="575.8" y="363.9" font-size="10.5" text-anchor="middle" font-weight="normal" font-style="normal" fill="#1a1a1a" >150</text>
<line x1="609.90" y1="351.20" x2="609.90" y2="353.20" stroke="#777" stroke-width="0.9" />
<text x="609.9" y="363.9" font-size="10.5" text-anchor="middle" font-weight="normal" font-style="normal" fill="#1a1a1a" >200</text>
<line x1="644.00" y1="351.20" x2="644.00" y2="353.20" stroke="#777" stroke-width="0.9" />
<text x="644.0" y="363.9" font-size="10.5" text-anchor="middle" font-weight="normal" font-style="normal" fill="#1a1a1a" >250</text>
<line x1="461.90" y1="319.20" x2="465.30" y2="319.20" stroke="#888" stroke-width="0.9" />
<text x="458.8" y="322.1" font-size="10.4" text-anchor="end" font-weight="normal" font-style="normal" fill="#1a1a1a" >G-t(11;14)</text>
<line x1="461.90" y1="339.70" x2="465.30" y2="339.70" stroke="#888" stroke-width="0.9" />
<text x="458.8" y="342.6" font-size="10.4" text-anchor="end" font-weight="normal" font-style="normal" fill="#1a1a1a" >A-t(11;14)</text>
<line x1="473.10" y1="319.20" x2="519.20" y2="319.20" stroke="#ecb0b6" stroke-width="0.8" stroke-dasharray="1.6,2.2"/>
<line x1="473.10" y1="316.00" x2="473.10" y2="322.40" stroke="#dc8a92" stroke-width="1.2" />
<line x1="578.80" y1="319.20" x2="666.30" y2="319.20" stroke="#ecb0b6" stroke-width="0.8" stroke-dasharray="1.6,2.2"/>
<line x1="666.30" y1="316.00" x2="666.30" y2="322.40" stroke="#dc8a92" stroke-width="1.2" />
<polygon points="519.20,313.40 536.00,313.40 544.10,316.40 552.50,313.40 578.80,313.40 578.80,325.80 552.50,325.80 544.10,322.60 536.00,325.80 519.20,325.80" fill="#66eede" stroke="#3a9a90" stroke-width="0.6"/>
<line x1="544.10" y1="316.40" x2="544.10" y2="322.60" stroke="#8a2a2a" stroke-width="1.7" />
<line x1="489.70" y1="339.70" x2="513.10" y2="339.70" stroke="#ecb0b6" stroke-width="0.8" stroke-dasharray="1.6,2.2"/>
<line x1="489.70" y1="336.50" x2="489.70" y2="342.90" stroke="#dc8a92" stroke-width="1.2" />
<line x1="565.20" y1="339.70" x2="641.40" y2="339.70" stroke="#ecb0b6" stroke-width="0.8" stroke-dasharray="1.6,2.2"/>
<line x1="641.40" y1="336.50" x2="641.40" y2="342.90" stroke="#dc8a92" stroke-width="1.2" />
<polygon points="513.10,333.40 515.80,333.40 531.50,336.60 548.10,333.40 565.20,333.40 565.20,345.80 548.10,345.80 531.50,342.60 515.80,345.80 513.10,345.80" fill="#f65e46" stroke="#b04030" stroke-width="0.6"/>
<line x1="531.50" y1="336.60" x2="531.50" y2="342.60" stroke="#8a2a2a" stroke-width="1.7" />
<text x="522.7" y="377.6" font-size="10.7" text-anchor="start" font-weight="normal" font-style="normal" fill="#1a1a1a" ><tspan font-style="italic">CCND1</tspan> expression</text>
<defs><pattern id="dots" x="501.1" y="445.8" width="2.45" height="5.2" patternUnits="userSpaceOnUse"><circle cx="0.6" cy="1.4" r="0.5" fill="#1d3d38" fill-opacity="0.85"/><circle cx="1.82" cy="4.0" r="0.5" fill="#1d3d38" fill-opacity="0.85"/></pattern></defs>
<rect x="468.60" y="519.40" width="21.40" height="10.60" fill="#80d4c6" stroke="none" stroke-width="1" />
<rect x="501.30" y="445.80" width="21.60" height="53.90" fill="#80d4c6" stroke="none" stroke-width="1" />
<rect x="502.50" y="446.60" width="19.20" height="52.90" fill="url(#dots)" stroke="none" stroke-width="1" />
<rect x="501.30" y="509.10" width="21.60" height="20.90" fill="#80d4c6" stroke="none" stroke-width="1" />
<rect x="502.50" y="509.90" width="19.20" height="19.90" fill="url(#dots)" stroke="none" stroke-width="1" />
<line x1="457.70" y1="415.00" x2="457.70" y2="500.00" stroke="#111" stroke-width="1.3" />
<line x1="457.70" y1="508.90" x2="457.70" y2="530.60" stroke="#111" stroke-width="1.3" />
<line x1="454.60" y1="500.00" x2="460.90" y2="500.00" stroke="#111" stroke-width="1.3" />
<line x1="457.70" y1="508.90" x2="460.90" y2="508.90" stroke="#111" stroke-width="1.3" />
<line x1="453.40" y1="415.60" x2="457.70" y2="415.60" stroke="#111" stroke-width="1.2" />
<text x="451.3" y="418.3" font-size="9.8" text-anchor="end" font-weight="bold" font-style="normal" fill="#111"  textLength="14.25" lengthAdjust="spacingAndGlyphs">300</text>
<line x1="453.40" y1="444.30" x2="457.70" y2="444.30" stroke="#111" stroke-width="1.2" />
<text x="451.3" y="447.0" font-size="9.8" text-anchor="end" font-weight="bold" font-style="normal" fill="#111"  textLength="14.25" lengthAdjust="spacingAndGlyphs">200</text>
<line x1="453.40" y1="472.80" x2="457.70" y2="472.80" stroke="#111" stroke-width="1.2" />
<text x="451.3" y="475.5" font-size="9.8" text-anchor="end" font-weight="bold" font-style="normal" fill="#111"  textLength="14.25" lengthAdjust="spacingAndGlyphs">100</text>
<line x1="453.40" y1="508.90" x2="457.70" y2="508.90" stroke="#111" stroke-width="1.2" />
<text x="451.3" y="511.9" font-size="9.8" text-anchor="end" font-weight="bold" font-style="normal" fill="#111"  textLength="4.75" lengthAdjust="spacingAndGlyphs">2</text>
<line x1="453.40" y1="519.40" x2="457.70" y2="519.40" stroke="#111" stroke-width="1.2" />
<text x="451.3" y="522.4" font-size="9.8" text-anchor="end" font-weight="bold" font-style="normal" fill="#111"  textLength="4.75" lengthAdjust="spacingAndGlyphs">1</text>
<line x1="453.40" y1="530.00" x2="457.70" y2="530.00" stroke="#111" stroke-width="1.2" />
<text x="451.3" y="533.0" font-size="9.8" text-anchor="end" font-weight="bold" font-style="normal" fill="#111"  textLength="4.75" lengthAdjust="spacingAndGlyphs">0</text>
<line x1="457.10" y1="530.00" x2="534.90" y2="530.00" stroke="#111" stroke-width="1.3" />
<line x1="479.40" y1="530.00" x2="479.40" y2="534.30" stroke="#111" stroke-width="1.2" />
<line x1="512.00" y1="530.00" x2="512.00" y2="534.30" stroke="#111" stroke-width="1.2" />
<polyline points="479.6,512.2 479.6,419.1 512.0,419.1 512.0,425.8" fill="none" stroke="#111" stroke-width="1.35"/>
<text x="495.6" y="418.2" font-size="14.5" text-anchor="middle" font-weight="bold" font-style="normal" fill="#111" >*</text>
<line x1="512.00" y1="432.30" x2="512.00" y2="458.50" stroke="#222" stroke-width="1.0" />
<line x1="506.60" y1="432.30" x2="517.50" y2="432.30" stroke="#111" stroke-width="1.2" />
<line x1="506.60" y1="458.50" x2="517.50" y2="458.50" stroke="#111" stroke-width="1.2" />
<rect x="509.80" y="434.80" width="4.40" height="4.40" fill="#000" stroke="none" stroke-width="1" />
<rect x="509.80" y="438.30" width="4.40" height="4.40" fill="#000" stroke="none" stroke-width="1" />
<rect x="509.80" y="458.30" width="4.40" height="4.40" fill="#000" stroke="none" stroke-width="1" />
<line x1="474.00" y1="519.00" x2="486.00" y2="519.00" stroke="#111" stroke-width="1.0" />
<circle cx="473.0" cy="520.0" r="2.3" fill="#000"/>
<circle cx="479.6" cy="518.9" r="2.3" fill="#000"/>
<circle cx="486.2" cy="519.7" r="2.3" fill="#000"/>
<text transform="translate(428.9,522.5) rotate(-90)" font-size="11.2" font-weight="bold" fill="#111"><tspan font-style="italic">PAX5</tspan> expression</text>
<rect x="469.10" y="631.40" width="21.90" height="37.60" fill="#80d4c6" stroke="none" stroke-width="1" />
<rect x="502.00" y="578.20" width="21.40" height="90.80" fill="#80d4c6" stroke="none" stroke-width="1" />
<rect x="503.20" y="579.00" width="19.00" height="89.80" fill="url(#dots)" stroke="none" stroke-width="1" />
<line x1="458.20" y1="555.20" x2="458.20" y2="669.60" stroke="#111" stroke-width="1.3" />
<line x1="453.60" y1="555.80" x2="458.20" y2="555.80" stroke="#111" stroke-width="1.2" />
<text x="452.7" y="558.7" font-size="9.8" text-anchor="end" font-weight="bold" font-style="normal" fill="#111"  textLength="4.75" lengthAdjust="spacingAndGlyphs">3</text>
<line x1="453.60" y1="593.50" x2="458.20" y2="593.50" stroke="#111" stroke-width="1.2" />
<text x="452.7" y="596.4" font-size="9.8" text-anchor="end" font-weight="bold" font-style="normal" fill="#111"  textLength="4.75" lengthAdjust="spacingAndGlyphs">2</text>
<line x1="453.60" y1="631.40" x2="458.20" y2="631.40" stroke="#111" stroke-width="1.2" />
<text x="452.7" y="634.3" font-size="9.8" text-anchor="end" font-weight="bold" font-style="normal" fill="#111"  textLength="4.75" lengthAdjust="spacingAndGlyphs">1</text>
<line x1="453.60" y1="669.00" x2="458.20" y2="669.00" stroke="#111" stroke-width="1.2" />
<text x="452.7" y="671.9" font-size="9.8" text-anchor="end" font-weight="bold" font-style="normal" fill="#111"  textLength="4.75" lengthAdjust="spacingAndGlyphs">0</text>
<line x1="457.60" y1="669.20" x2="534.90" y2="669.20" stroke="#111" stroke-width="1.3" />
<line x1="479.70" y1="669.20" x2="479.70" y2="673.90" stroke="#111" stroke-width="1.2" />
<line x1="512.40" y1="669.20" x2="512.40" y2="673.90" stroke="#111" stroke-width="1.2" />
<polyline points="479.6,623.0 479.6,552.8 512.5,552.8 512.5,559.8" fill="none" stroke="#111" stroke-width="1.35"/>
<text x="496.0" y="552.3" font-size="14.5" text-anchor="middle" font-weight="bold" font-style="normal" fill="#111" >*</text>
<line x1="512.00" y1="566.80" x2="512.00" y2="589.10" stroke="#222" stroke-width="1.0" />
<line x1="507.00" y1="566.80" x2="517.50" y2="566.80" stroke="#111" stroke-width="1.2" />
<line x1="507.00" y1="589.10" x2="517.50" y2="589.10" stroke="#111" stroke-width="1.2" />
<rect x="509.80" y="564.60" width="4.40" height="4.40" fill="#000" stroke="none" stroke-width="1" />
<rect x="509.80" y="577.70" width="4.40" height="4.40" fill="#000" stroke="none" stroke-width="1" />
<rect x="509.80" y="586.50" width="4.40" height="4.40" fill="#000" stroke="none" stroke-width="1" />
<line x1="474.50" y1="629.50" x2="484.50" y2="629.50" stroke="#111" stroke-width="1.0" />
<line x1="474.50" y1="633.30" x2="484.50" y2="633.30" stroke="#111" stroke-width="1.0" />
<line x1="479.60" y1="629.50" x2="479.60" y2="633.30" stroke="#111" stroke-width="1.0" />
<circle cx="473.0" cy="632.9" r="2.5" fill="#000"/>
<circle cx="479.6" cy="630.3" r="2.5" fill="#000"/>
<circle cx="486.6" cy="631.2" r="2.5" fill="#000"/>
<text transform="translate(428.6,662.5) rotate(-90)" font-size="11.2" font-weight="bold" fill="#111"><tspan font-style="italic">CCND1</tspan> expression</text>
<text transform="translate(484.5,685.1) rotate(-45)" font-size="12.65" text-anchor="end" fill="#111">U266B1 Control</text>
<text transform="translate(519.0,683.0) rotate(-45)" font-size="12.65" text-anchor="end" fill="#111">U266+PAX5</text>
<defs><filter id="blur1" x="-20%" y="-50%" width="140%" height="200%"><feGaussianBlur stdDeviation="0.9"/></filter><filter id="blur2" x="-20%" y="-80%" width="140%" height="260%"><feGaussianBlur stdDeviation="1.6"/></filter></defs>
<rect x="560.50" y="525.00" width="66.40" height="23.60" fill="#dddddd" stroke="none" stroke-width="1" />
<rect x="566" y="526" width="25.5" height="21.5" fill="#c9c9c9" filter="url(#blur2)"/>
<rect x="598.8" y="525.5" width="27" height="22.5" fill="#c3c3c3" filter="url(#blur1)"/>
<ellipse cx="611.5" cy="538.8" rx="13.5" ry="2.6" fill="#8e8e8e" filter="url(#blur2)"/>
<ellipse cx="578" cy="539.5" rx="11" ry="2.2" fill="#bdbdbd" filter="url(#blur2)"/>
<clipPath id="bp"><rect x="560.5" y="525" width="66.4" height="23.6"/></clipPath>
<rect x="560.50" y="550.70" width="66.40" height="33.10" fill="#cbcbcb" stroke="none" stroke-width="1" />
<rect x="563.8" y="567.3" width="27.7" height="3.8" rx="1.9" fill="#2a2a2a" filter="url(#blur1)"/>
<rect x="598.5" y="565.8" width="26.5" height="6.2" rx="3" fill="#0c0c0c" filter="url(#blur1)"/>
<rect x="560.50" y="586.10" width="66.40" height="39.40" fill="#e3e3e3" stroke="none" stroke-width="1" />
<rect x="563.5" y="603.4" width="27.7" height="5.4" rx="2.7" fill="#0a0a0a" filter="url(#blur1)"/>
<rect x="597.0" y="603.4" width="26.8" height="5.4" rx="2.7" fill="#0a0a0a" filter="url(#blur1)"/>
<defs><filter id="grain" x="0" y="0" width="100%" height="100%"><feTurbulence type="fractalNoise" baseFrequency="0.55" numOctaves="2" seed="5"/><feColorMatrix type="matrix" values="0 0 0 0 0  0 0 0 0 0  0 0 0 0 0  0.2 0 0 0 -0.06"/></filter><clipPath id="blotclip"><rect x="560.5" y="525" width="66.4" height="23.6"/><rect x="560.5" y="550.7" width="66.4" height="33.1"/></clipPath></defs>
<g clip-path="url(#blotclip)"><rect x="560.5" y="525" width="66.4" height="59" fill="#000" filter="url(#grain)"/></g>
<text x="631.6" y="543.3" font-size="12.4" text-anchor="start" font-weight="normal" font-style="normal" fill="#111" >PAX5</text>
<text x="631.6" y="572.3" font-size="12.35" text-anchor="start" font-weight="normal" font-style="normal" fill="#111" >Cyclin D1</text>
<text x="631.6" y="610.3" font-size="12.6" text-anchor="start" font-weight="normal" font-style="normal" fill="#111" >GAPDH</text>
<text transform="translate(577.5,523.0) rotate(-45)" font-size="12.6" fill="#111">U266B1 Control</text>
<text transform="translate(612.0,522.5) rotate(-45)" font-size="12.6" fill="#111">U266B1+PAX5</text>
</svg></body></html>
